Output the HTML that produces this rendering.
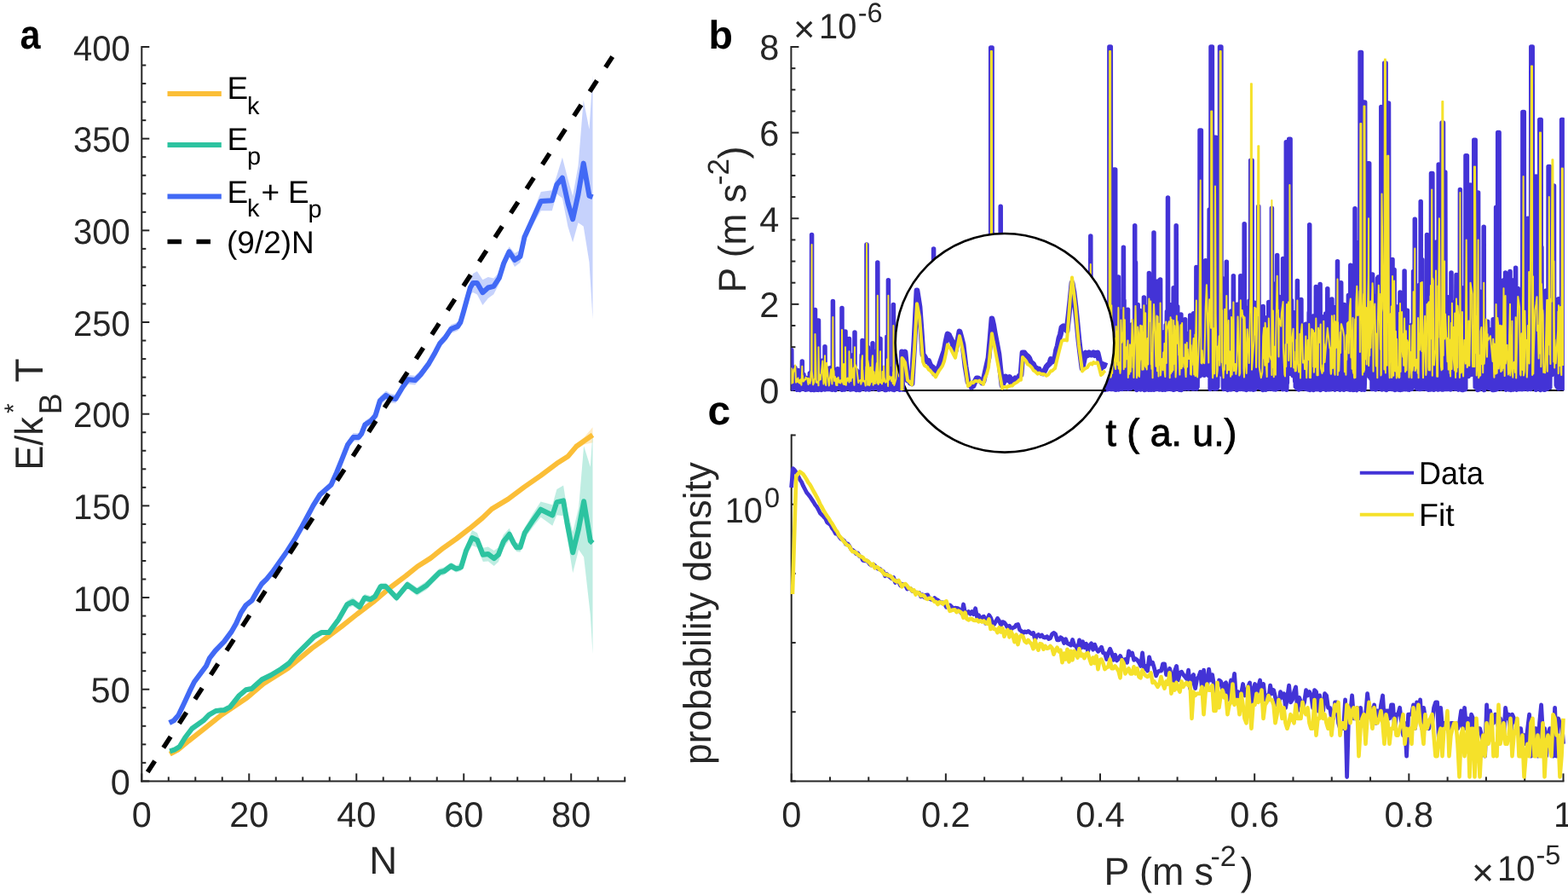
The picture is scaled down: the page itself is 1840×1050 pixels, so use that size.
<!DOCTYPE html>
<html><head><meta charset="utf-8"><style>
html,body{margin:0;padding:0;background:#fff;overflow:hidden;}
svg{display:block;font-family:'Liberation Sans', Arial, Helvetica, sans-serif;text-rendering:geometricPrecision;}
</style></head><body>
<svg width="1840" height="1050" viewBox="0 0 1840 1050">
<rect width="1840" height="1050" fill="#fff"/>
<line x1="166.30" y1="54.00" x2="166.30" y2="917.40" stroke="#262626" stroke-width="2" />
<line x1="165.30" y1="916.40" x2="734.20" y2="916.40" stroke="#262626" stroke-width="2" />
<line x1="166.30" y1="916.40" x2="175.30" y2="916.40" stroke="#262626" stroke-width="2" />
<text x="152.80" y="931.90" font-size="41.5" text-anchor="end" fill="#262626" font-weight="normal" textLength="23.1" lengthAdjust="spacingAndGlyphs">0</text>
<line x1="166.30" y1="894.87" x2="171.30" y2="894.87" stroke="#262626" stroke-width="2" />
<line x1="166.30" y1="873.33" x2="171.30" y2="873.33" stroke="#262626" stroke-width="2" />
<line x1="166.30" y1="851.79" x2="171.30" y2="851.79" stroke="#262626" stroke-width="2" />
<line x1="166.30" y1="830.26" x2="171.30" y2="830.26" stroke="#262626" stroke-width="2" />
<line x1="166.30" y1="808.73" x2="175.30" y2="808.73" stroke="#262626" stroke-width="2" />
<text x="152.80" y="824.23" font-size="41.5" text-anchor="end" fill="#262626" font-weight="normal" textLength="46.2" lengthAdjust="spacingAndGlyphs">50</text>
<line x1="166.30" y1="787.19" x2="171.30" y2="787.19" stroke="#262626" stroke-width="2" />
<line x1="166.30" y1="765.65" x2="171.30" y2="765.65" stroke="#262626" stroke-width="2" />
<line x1="166.30" y1="744.12" x2="171.30" y2="744.12" stroke="#262626" stroke-width="2" />
<line x1="166.30" y1="722.59" x2="171.30" y2="722.59" stroke="#262626" stroke-width="2" />
<line x1="166.30" y1="701.05" x2="175.30" y2="701.05" stroke="#262626" stroke-width="2" />
<text x="152.80" y="716.55" font-size="41.5" text-anchor="end" fill="#262626" font-weight="normal" textLength="66.8" lengthAdjust="spacingAndGlyphs">100</text>
<line x1="166.30" y1="679.51" x2="171.30" y2="679.51" stroke="#262626" stroke-width="2" />
<line x1="166.30" y1="657.98" x2="171.30" y2="657.98" stroke="#262626" stroke-width="2" />
<line x1="166.30" y1="636.44" x2="171.30" y2="636.44" stroke="#262626" stroke-width="2" />
<line x1="166.30" y1="614.91" x2="171.30" y2="614.91" stroke="#262626" stroke-width="2" />
<line x1="166.30" y1="593.38" x2="175.30" y2="593.38" stroke="#262626" stroke-width="2" />
<text x="152.80" y="608.88" font-size="41.5" text-anchor="end" fill="#262626" font-weight="normal" textLength="66.8" lengthAdjust="spacingAndGlyphs">150</text>
<line x1="166.30" y1="571.84" x2="171.30" y2="571.84" stroke="#262626" stroke-width="2" />
<line x1="166.30" y1="550.30" x2="171.30" y2="550.30" stroke="#262626" stroke-width="2" />
<line x1="166.30" y1="528.77" x2="171.30" y2="528.77" stroke="#262626" stroke-width="2" />
<line x1="166.30" y1="507.23" x2="171.30" y2="507.23" stroke="#262626" stroke-width="2" />
<line x1="166.30" y1="485.70" x2="175.30" y2="485.70" stroke="#262626" stroke-width="2" />
<text x="152.80" y="501.20" font-size="41.5" text-anchor="end" fill="#262626" font-weight="normal" textLength="66.8" lengthAdjust="spacingAndGlyphs">200</text>
<line x1="166.30" y1="464.16" x2="171.30" y2="464.16" stroke="#262626" stroke-width="2" />
<line x1="166.30" y1="442.63" x2="171.30" y2="442.63" stroke="#262626" stroke-width="2" />
<line x1="166.30" y1="421.09" x2="171.30" y2="421.09" stroke="#262626" stroke-width="2" />
<line x1="166.30" y1="399.56" x2="171.30" y2="399.56" stroke="#262626" stroke-width="2" />
<line x1="166.30" y1="378.02" x2="175.30" y2="378.02" stroke="#262626" stroke-width="2" />
<text x="152.80" y="393.52" font-size="41.5" text-anchor="end" fill="#262626" font-weight="normal" textLength="66.8" lengthAdjust="spacingAndGlyphs">250</text>
<line x1="166.30" y1="356.49" x2="171.30" y2="356.49" stroke="#262626" stroke-width="2" />
<line x1="166.30" y1="334.95" x2="171.30" y2="334.95" stroke="#262626" stroke-width="2" />
<line x1="166.30" y1="313.42" x2="171.30" y2="313.42" stroke="#262626" stroke-width="2" />
<line x1="166.30" y1="291.88" x2="171.30" y2="291.88" stroke="#262626" stroke-width="2" />
<line x1="166.30" y1="270.35" x2="175.30" y2="270.35" stroke="#262626" stroke-width="2" />
<text x="152.80" y="285.85" font-size="41.5" text-anchor="end" fill="#262626" font-weight="normal" textLength="66.8" lengthAdjust="spacingAndGlyphs">300</text>
<line x1="166.30" y1="248.81" x2="171.30" y2="248.81" stroke="#262626" stroke-width="2" />
<line x1="166.30" y1="227.28" x2="171.30" y2="227.28" stroke="#262626" stroke-width="2" />
<line x1="166.30" y1="205.75" x2="171.30" y2="205.75" stroke="#262626" stroke-width="2" />
<line x1="166.30" y1="184.21" x2="171.30" y2="184.21" stroke="#262626" stroke-width="2" />
<line x1="166.30" y1="162.67" x2="175.30" y2="162.67" stroke="#262626" stroke-width="2" />
<text x="152.80" y="178.17" font-size="41.5" text-anchor="end" fill="#262626" font-weight="normal" textLength="66.8" lengthAdjust="spacingAndGlyphs">350</text>
<line x1="166.30" y1="141.14" x2="171.30" y2="141.14" stroke="#262626" stroke-width="2" />
<line x1="166.30" y1="119.61" x2="171.30" y2="119.61" stroke="#262626" stroke-width="2" />
<line x1="166.30" y1="98.07" x2="171.30" y2="98.07" stroke="#262626" stroke-width="2" />
<line x1="166.30" y1="76.53" x2="171.30" y2="76.53" stroke="#262626" stroke-width="2" />
<line x1="166.30" y1="55.00" x2="175.30" y2="55.00" stroke="#262626" stroke-width="2" />
<text x="152.80" y="70.50" font-size="41.5" text-anchor="end" fill="#262626" font-weight="normal" textLength="66.8" lengthAdjust="spacingAndGlyphs">400</text>
<line x1="166.30" y1="916.40" x2="166.30" y2="907.40" stroke="#262626" stroke-width="2" />
<text x="166.30" y="970.00" font-size="41.5" text-anchor="middle" fill="#262626" font-weight="normal" >0</text>
<line x1="197.79" y1="916.40" x2="197.79" y2="911.40" stroke="#262626" stroke-width="2" />
<line x1="229.29" y1="916.40" x2="229.29" y2="911.40" stroke="#262626" stroke-width="2" />
<line x1="260.78" y1="916.40" x2="260.78" y2="911.40" stroke="#262626" stroke-width="2" />
<line x1="292.28" y1="916.40" x2="292.28" y2="907.40" stroke="#262626" stroke-width="2" />
<text x="292.28" y="970.00" font-size="41.5" text-anchor="middle" fill="#262626" font-weight="normal" >20</text>
<line x1="323.77" y1="916.40" x2="323.77" y2="911.40" stroke="#262626" stroke-width="2" />
<line x1="355.27" y1="916.40" x2="355.27" y2="911.40" stroke="#262626" stroke-width="2" />
<line x1="386.76" y1="916.40" x2="386.76" y2="911.40" stroke="#262626" stroke-width="2" />
<line x1="418.26" y1="916.40" x2="418.26" y2="907.40" stroke="#262626" stroke-width="2" />
<text x="418.26" y="970.00" font-size="41.5" text-anchor="middle" fill="#262626" font-weight="normal" >40</text>
<line x1="449.75" y1="916.40" x2="449.75" y2="911.40" stroke="#262626" stroke-width="2" />
<line x1="481.24" y1="916.40" x2="481.24" y2="911.40" stroke="#262626" stroke-width="2" />
<line x1="512.74" y1="916.40" x2="512.74" y2="911.40" stroke="#262626" stroke-width="2" />
<line x1="544.23" y1="916.40" x2="544.23" y2="907.40" stroke="#262626" stroke-width="2" />
<text x="544.23" y="970.00" font-size="41.5" text-anchor="middle" fill="#262626" font-weight="normal" >60</text>
<line x1="575.73" y1="916.40" x2="575.73" y2="911.40" stroke="#262626" stroke-width="2" />
<line x1="607.22" y1="916.40" x2="607.22" y2="911.40" stroke="#262626" stroke-width="2" />
<line x1="638.72" y1="916.40" x2="638.72" y2="911.40" stroke="#262626" stroke-width="2" />
<line x1="670.21" y1="916.40" x2="670.21" y2="907.40" stroke="#262626" stroke-width="2" />
<text x="670.21" y="970.00" font-size="41.5" text-anchor="middle" fill="#262626" font-weight="normal" >80</text>
<line x1="701.71" y1="916.40" x2="701.71" y2="911.40" stroke="#262626" stroke-width="2" />
<line x1="733.20" y1="916.40" x2="733.20" y2="911.40" stroke="#262626" stroke-width="2" />
<text x="449.75" y="1025.00" font-size="45.5" text-anchor="middle" fill="#262626" font-weight="normal" >N</text>
<polygon points="199.3,884.2 209.3,878.8 221.3,868.8 240.0,854.2 260.0,838.1 290.0,817.9 309.0,801.7 337.6,783.5 366.2,759.7 380.0,749.8 400.0,735.0 419.0,719.8 438.1,705.4 457.1,689.2 476.2,674.9 490.0,663.7 505.2,654.1 520.5,641.8 535.7,631.1 551.0,619.3 566.2,606.7 577.1,596.2 596.2,584.7 615.2,570.4 634.3,557.1 653.3,541.9 666.7,532.4 676.2,520.4 685.7,512.8 695.5,501.3 695.5,519.3 685.7,521.4 676.2,527.2 666.7,538.0 653.3,545.7 634.3,559.1 615.2,572.4 596.2,586.7 577.1,598.0 566.2,608.5 551.0,621.1 535.7,632.9 520.5,643.6 505.2,655.7 490.0,665.3 476.2,676.5 457.1,690.8 438.1,707.0 419.0,721.2 400.0,736.4 380.0,751.2 366.2,761.1 337.6,784.9 309.0,802.9 290.0,819.1 260.0,839.3 240.0,855.2 221.3,869.8 209.3,879.8 199.3,885.2" fill="#FBBE37" fill-opacity="0.3"/>
<polygon points="199.3,879.8 205.3,877.8 210.7,874.5 217.3,863.7 225.3,853.1 232.0,848.4 238.7,843.7 245.3,837.1 253.3,832.3 259.3,831.6 263.3,831.3 270.0,827.6 280.7,814.3 288.7,807.6 295.3,806.2 307.3,795.5 318.0,790.2 330.0,782.8 339.3,776.1 345.7,768.1 357.1,756.7 368.6,745.1 377.1,740.1 386.0,739.7 397.3,723.8 407.3,704.8 414.0,701.1 422.0,707.4 428.0,696.9 434.7,699.0 440.0,695.9 446.7,684.0 452.7,683.8 465.3,696.9 478.0,681.4 489.3,689.2 500.7,681.7 516.0,666.7 521.3,665.5 529.3,659.7 535.3,663.2 541.1,661.0 547.1,639.2 554.0,622.1 560.0,625.2 566.8,642.7 572.8,641.5 579.7,646.1 584.8,642.3 590.8,627.6 597.7,619.8 602.8,631.3 606.3,637.2 610.5,636.6 615.7,618.7 626.0,601.8 634.5,588.6 648.3,592.3 653.4,574.0 661.1,569.5 665.4,596.6 672.2,624.2 679.1,595.3 685.1,523.2 692.8,547.7 695.5,507.1 695.5,767.1 692.8,721.3 685.1,653.4 679.1,644.7 672.2,672.2 665.4,629.6 661.1,605.3 653.4,604.2 648.3,616.7 634.5,606.8 626.0,617.6 615.7,631.5 610.5,647.8 606.3,647.2 602.8,642.9 597.7,633.8 590.8,643.2 584.8,659.3 579.7,664.1 572.8,658.5 566.8,658.9 560.0,642.2 554.0,640.1 547.1,652.2 541.1,669.8 535.3,671.4 529.3,668.3 521.3,674.5 516.0,675.9 500.7,691.7 489.3,698.8 478.0,690.6 465.3,705.7 452.7,692.2 446.7,692.0 440.0,704.1 434.7,707.6 428.0,705.7 422.0,716.6 414.0,710.9 407.3,713.8 397.3,729.6 386.0,744.3 377.1,744.1 368.6,749.1 357.1,760.5 345.7,771.9 339.3,779.9 330.0,786.6 318.0,793.8 307.3,799.1 295.3,809.8 288.7,811.0 280.7,817.7 270.0,831.0 263.3,834.7 259.3,835.0 253.3,835.7 245.3,840.3 238.7,846.9 232.0,851.6 225.3,856.3 217.3,866.9 210.7,877.5 205.3,880.8 199.3,882.8" fill="#2CC3A0" fill-opacity="0.3"/>
<polygon points="198.7,846.5 204.0,843.8 209.3,837.8 216.0,823.8 222.7,809.1 228.0,798.4 236.0,787.7 242.0,779.7 246.0,770.4 252.7,761.6 262.9,751.2 271.4,739.7 277.1,729.7 282.9,716.9 288.6,708.3 295.7,702.5 301.4,692.5 307.1,683.2 312.9,677.5 320.0,668.9 328.6,656.7 337.1,644.5 345.7,631.0 354.5,615.6 367.5,591.1 375.6,578.2 388.6,566.4 395.1,551.4 401.6,534.8 408.0,517.7 414.5,508.0 421.0,508.2 424.2,504.4 428.3,493.7 435.6,488.7 440.4,482.9 445.9,465.0 453.0,458.5 457.8,461.7 464.3,462.9 472.4,449.0 478.9,439.8 487.0,440.8 493.5,434.4 503.2,421.6 509.7,410.3 516.1,398.1 522.6,390.9 529.1,381.1 537.2,377.9 540.4,373.0 543.7,361.7 547.7,347.1 551.8,329.5 555.0,320.9 559.9,318.3 566.4,328.3 572.8,324.9 579.3,326.5 585.8,319.7 591.1,303.0 597.5,289.3 604.0,297.0 610.5,293.6 615.4,273.2 623.5,253.7 634.8,225.0 647.8,223.3 653.4,205.9 659.9,184.8 666.4,209.9 672.1,230.1 678.5,194.7 684.7,117.6 691.5,151.7 695.5,88.3 695.5,374.3 691.5,307.7 684.7,265.6 678.5,261.3 672.1,284.2 666.4,265.7 659.9,232.4 653.4,227.5 647.8,247.3 634.8,247.2 623.5,267.1 615.4,283.4 610.5,308.1 604.0,313.0 597.5,301.3 591.1,315.0 585.8,332.7 579.3,345.2 572.8,350.1 566.4,358.1 559.9,345.5 555.0,342.9 551.8,345.5 547.7,357.1 543.7,371.7 540.4,383.0 537.2,387.9 529.1,391.1 522.6,400.9 516.1,408.1 509.7,420.3 503.2,431.6 493.5,444.8 487.0,451.4 478.9,450.8 472.4,459.4 464.3,472.9 457.8,472.5 453.0,469.3 445.9,475.0 440.4,492.7 435.6,498.3 428.3,502.9 424.2,513.4 421.0,517.6 414.5,517.8 408.0,525.9 401.6,541.2 395.1,557.0 388.6,571.2 375.6,582.2 367.5,595.1 354.5,619.4 345.7,634.8 337.1,648.3 328.6,660.5 320.0,672.5 312.9,681.1 307.1,686.8 301.4,696.1 295.7,706.1 288.6,711.7 282.9,720.3 277.1,733.1 271.4,743.1 262.9,754.6 252.7,765.0 246.0,773.6 242.0,782.9 236.0,790.9 228.0,801.6 222.7,812.3 216.0,826.8 209.3,840.8 204.0,846.8 198.7,849.5" fill="#4169F5" fill-opacity="0.3"/>
<polyline points="199.3,884.7 209.3,879.3 221.3,869.3 240.0,854.7 260.0,838.7 290.0,818.5 309.0,802.3 337.6,784.2 366.2,760.4 380.0,750.5 400.0,735.7 419.0,720.5 438.1,706.2 457.1,690.0 476.2,675.7 490.0,664.5 505.2,654.9 520.5,642.7 535.7,632.0 551.0,620.2 566.2,607.6 577.1,597.1 596.2,585.7 615.2,571.4 634.3,558.1 653.3,543.8 666.7,535.2 676.2,523.8 685.7,517.1 695.5,510.3" fill="none" stroke="#FBBE37" stroke-width="6" stroke-linejoin="round" />
<polyline points="199.3,881.3 205.3,879.3 210.7,876.0 217.3,865.3 225.3,854.7 232.0,850.0 238.7,845.3 245.3,838.7 253.3,834.0 259.3,833.3 263.3,833.0 270.0,829.3 280.7,816.0 288.7,809.3 295.3,808.0 307.3,797.3 318.0,792.0 330.0,784.7 339.3,778.0 345.7,770.0 357.1,758.6 368.6,747.1 377.1,742.1 386.0,742.0 397.3,726.7 407.3,709.3 414.0,706.0 422.0,712.0 428.0,701.3 434.7,703.3 440.0,700.0 446.7,688.0 452.7,688.0 465.3,701.3 478.0,686.0 489.3,694.0 500.7,686.7 516.0,671.3 521.3,670.0 529.3,664.0 535.3,667.3 541.1,665.4 547.1,645.7 554.0,631.1 560.0,633.7 566.8,650.8 572.8,650.0 579.7,655.1 584.8,650.8 590.8,635.4 597.7,626.8 602.8,637.1 606.3,642.2 610.5,642.2 615.7,625.1 626.0,609.7 634.5,597.7 648.3,604.5 653.4,589.1 661.1,587.4 665.4,613.1 672.2,648.2 679.1,620.0 685.1,588.3 692.8,634.5 695.5,637.1" fill="none" stroke="#2CC3A0" stroke-width="6" stroke-linejoin="round" />
<polyline points="198.7,848.0 204.0,845.3 209.3,839.3 216.0,825.3 222.7,810.7 228.0,800.0 236.0,789.3 242.0,781.3 246.0,772.0 252.7,763.3 262.9,752.9 271.4,741.4 277.1,731.4 282.9,718.6 288.6,710.0 295.7,704.3 301.4,694.3 307.1,685.0 312.9,679.3 320.0,670.7 328.6,658.6 337.1,646.4 345.7,632.9 354.5,617.5 367.5,593.1 375.6,580.2 388.6,568.8 395.1,554.2 401.6,538.0 408.0,521.8 414.5,512.9 421.0,512.9 424.2,508.9 428.3,498.3 435.6,493.5 440.4,487.8 445.9,470.0 453.0,463.9 457.8,467.1 464.3,467.9 472.4,454.2 478.9,445.3 487.0,446.1 493.5,439.6 503.2,426.6 509.7,415.3 516.1,403.1 522.6,395.9 529.1,386.1 537.2,382.9 540.4,378.0 543.7,366.7 547.7,352.1 551.8,337.5 555.0,331.9 559.9,331.9 566.4,343.2 572.8,337.5 579.3,335.9 585.8,326.2 591.1,309.0 597.5,295.3 604.0,305.0 610.5,300.9 615.4,278.3 623.5,260.4 634.8,236.1 647.8,235.3 653.4,216.7 659.9,208.6 666.4,237.8 672.1,257.2 678.5,228.0 684.7,191.6 691.5,229.7 695.5,231.3" fill="none" stroke="#4169F5" stroke-width="6" stroke-linejoin="round" />
<line x1="173.23" y1="905.74" x2="718.71" y2="66.52" stroke="#000" stroke-width="5.5" stroke-dasharray="15.5 18.5"/>
<line x1="196.5" y1="110" x2="259.8" y2="110" stroke="#FBBE37" stroke-width="6"/>
<line x1="196.5" y1="170" x2="259.8" y2="170" stroke="#2CC3A0" stroke-width="6"/>
<line x1="196.5" y1="230.4" x2="259.8" y2="230.4" stroke="#4169F5" stroke-width="6"/>
<line x1="196.5" y1="283.6" x2="259.8" y2="283.6" stroke="#000" stroke-width="5.5" stroke-dasharray="16.5 17.5"/>
<line x1="928.40" y1="54.00" x2="928.40" y2="458.50" stroke="#262626" stroke-width="2" />
<line x1="928.40" y1="457.50" x2="937.40" y2="457.50" stroke="#262626" stroke-width="2" />
<text x="914.40" y="472.80" font-size="41.5" text-anchor="end" fill="#262626" font-weight="normal" >0</text>
<line x1="928.40" y1="432.34" x2="933.40" y2="432.34" stroke="#262626" stroke-width="2" />
<line x1="928.40" y1="407.19" x2="933.40" y2="407.19" stroke="#262626" stroke-width="2" />
<line x1="928.40" y1="382.03" x2="933.40" y2="382.03" stroke="#262626" stroke-width="2" />
<line x1="928.40" y1="356.88" x2="937.40" y2="356.88" stroke="#262626" stroke-width="2" />
<text x="914.40" y="372.18" font-size="41.5" text-anchor="end" fill="#262626" font-weight="normal" >2</text>
<line x1="928.40" y1="331.72" x2="933.40" y2="331.72" stroke="#262626" stroke-width="2" />
<line x1="928.40" y1="306.56" x2="933.40" y2="306.56" stroke="#262626" stroke-width="2" />
<line x1="928.40" y1="281.41" x2="933.40" y2="281.41" stroke="#262626" stroke-width="2" />
<line x1="928.40" y1="256.25" x2="937.40" y2="256.25" stroke="#262626" stroke-width="2" />
<text x="914.40" y="271.55" font-size="41.5" text-anchor="end" fill="#262626" font-weight="normal" >4</text>
<line x1="928.40" y1="231.09" x2="933.40" y2="231.09" stroke="#262626" stroke-width="2" />
<line x1="928.40" y1="205.94" x2="933.40" y2="205.94" stroke="#262626" stroke-width="2" />
<line x1="928.40" y1="180.78" x2="933.40" y2="180.78" stroke="#262626" stroke-width="2" />
<line x1="928.40" y1="155.62" x2="937.40" y2="155.62" stroke="#262626" stroke-width="2" />
<text x="914.40" y="170.93" font-size="41.5" text-anchor="end" fill="#262626" font-weight="normal" >6</text>
<line x1="928.40" y1="130.47" x2="933.40" y2="130.47" stroke="#262626" stroke-width="2" />
<line x1="928.40" y1="105.31" x2="933.40" y2="105.31" stroke="#262626" stroke-width="2" />
<line x1="928.40" y1="80.16" x2="933.40" y2="80.16" stroke="#262626" stroke-width="2" />
<line x1="928.40" y1="55.00" x2="937.40" y2="55.00" stroke="#262626" stroke-width="2" />
<text x="914.40" y="70.30" font-size="41.5" text-anchor="end" fill="#262626" font-weight="normal" >8</text>
<defs><clipPath id="cb"><rect x="928.4" y="52" width="907.5" height="418"/></clipPath></defs>
<line x1="928.40" y1="458.00" x2="1835.00" y2="458.00" stroke="#000" stroke-width="2" />
<g clip-path="url(#cb)"><polyline points="928.70,450.6 928.80,410.7 929.00,444.9 929.30,449.1 929.60,455.8 929.90,455.9 930.20,449.2 930.50,455.7 930.80,444.3 931.10,438.7 931.40,436.8 931.70,444.7 932.00,441.3 932.30,431.2 932.60,440.5 932.90,431.5 933.20,441.9 933.50,441.7 933.80,439.7 934.10,449.9 934.40,455.2 934.70,456.1 935.00,454.1 935.30,447.4 935.60,457.3 935.90,455.9 936.20,449.1 936.50,448.1 936.50,434.4 936.80,451.1 937.10,449.1 937.40,455.4 937.70,451.1 938.00,454.1 938.30,455.8 938.60,457.5 938.90,456.5 939.20,455.1 939.50,453.7 939.80,455.1 940.10,455.9 940.40,453.5 940.70,455.9 941.00,444.9 941.30,424.1 941.60,456.2 941.90,448.8 942.20,447.1 942.50,454.7 942.80,452.0 943.00,439.4 943.10,449.0 943.40,454.5 943.70,454.3 944.00,450.6 944.30,455.6 944.60,455.0 944.90,456.2 945.20,457.1 945.50,443.3 945.80,456.8 946.10,452.4 946.40,445.6 946.70,457.1 947.00,450.7 947.30,453.8 947.60,453.6 947.90,456.1 948.20,454.6 948.50,456.6 948.80,454.5 949.10,448.8 949.40,454.2 949.70,451.2 950.00,456.6 950.30,438.1 950.60,456.2 950.90,456.3 951.20,447.3 951.50,440.6 951.80,457.5 952.10,436.0 952.40,457.3 952.60,275.4 952.70,421.1 953.00,454.2 953.30,454.0 953.60,454.7 953.90,446.5 954.20,453.3 954.50,457.4 954.80,455.6 955.10,455.3 955.40,456.3 955.70,457.5 956.00,434.2 956.30,446.7 956.50,363.4 956.60,446.4 956.90,454.0 957.20,449.5 957.50,457.1 957.80,455.0 958.10,455.3 958.40,457.3 958.70,448.7 959.00,434.0 959.30,456.4 959.60,456.1 959.90,449.1 960.20,455.5 960.50,457.4 960.50,376.0 960.80,432.8 961.10,456.6 961.40,456.2 961.70,445.5 962.00,451.8 962.30,455.2 962.60,452.7 962.90,455.1 963.20,441.5 963.50,450.4 963.80,455.9 964.10,457.4 964.40,444.9 964.70,454.9 965.00,455.5 965.30,423.0 965.60,441.9 965.90,438.6 966.20,453.9 966.50,455.0 966.80,455.0 967.10,455.8 967.40,454.8 967.70,440.8 968.00,456.9 968.00,406.7 968.30,454.0 968.60,456.7 968.90,440.7 969.20,454.5 969.50,434.5 969.80,433.5 970.10,432.0 970.40,439.1 970.70,451.8 971.00,432.2 971.30,456.4 971.60,440.6 971.90,453.9 972.20,454.1 972.50,453.5 972.80,454.2 973.10,453.8 973.40,450.1 973.70,456.6 974.00,448.7 974.30,431.8 974.60,450.0 974.90,449.7 975.20,437.9 975.50,456.9 975.80,455.8 976.10,455.5 976.40,455.0 976.70,457.3 977.00,437.5 977.30,445.2 977.40,353.4 977.60,401.1 977.90,454.2 978.20,445.8 978.50,433.0 978.80,442.5 979.10,454.8 979.40,444.2 979.70,451.4 980.00,443.9 980.30,457.4 980.60,455.9 980.90,456.3 981.20,454.3 981.50,442.7 981.80,440.5 982.10,455.2 982.40,454.9 982.70,453.3 983.00,432.7 983.30,451.0 983.60,443.8 983.90,433.2 984.20,454.3 984.50,453.9 984.80,454.2 985.10,454.3 985.40,455.7 985.70,454.4 986.00,450.0 986.30,454.9 986.60,446.2 986.90,453.6 987.20,442.8 987.50,456.8 987.80,454.4 988.00,361.4 988.10,447.2 988.40,457.3 988.70,455.1 989.00,454.8 989.30,433.1 989.60,453.9 989.90,450.9 990.20,392.7 990.50,454.2 990.80,443.5 991.10,433.2 991.40,457.0 991.70,456.1 992.00,456.8 992.00,389.1 992.30,456.5 992.60,441.1 992.90,453.3 993.20,455.7 993.50,452.7 993.80,455.7 994.10,454.8 994.40,452.5 994.70,449.6 995.00,454.0 995.30,450.1 995.60,451.9 995.90,450.8 996.20,455.1 996.50,454.8 996.50,397.6 996.80,441.5 997.10,450.9 997.40,456.3 997.70,454.1 998.00,434.8 998.30,457.1 998.60,452.6 998.90,416.8 999.20,455.8 999.50,454.1 999.80,456.2 1000.10,436.9 1000.40,455.9 1000.70,456.5 1001.00,453.9 1001.30,445.1 1001.60,438.9 1001.90,454.0 1002.20,456.0 1002.50,454.4 1002.80,453.1 1003.00,390.1 1003.10,431.7 1003.40,454.2 1003.70,454.2 1004.00,444.6 1004.30,453.9 1004.60,457.4 1004.90,457.5 1005.20,434.8 1005.50,456.3 1005.80,442.9 1006.10,443.4 1006.40,455.6 1006.70,453.8 1007.00,441.1 1007.30,456.1 1007.60,456.3 1007.90,454.9 1008.20,456.7 1008.50,457.5 1008.80,454.6 1009.10,457.5 1009.40,457.3 1009.70,439.5 1010.00,455.9 1010.30,456.5 1010.60,435.6 1010.90,456.3 1011.20,416.8 1011.50,455.1 1011.80,454.2 1012.00,399.6 1012.10,454.8 1012.40,435.0 1012.70,455.1 1013.00,455.8 1013.30,455.5 1013.60,437.6 1013.90,449.4 1014.20,455.7 1014.50,453.6 1014.80,449.7 1015.10,446.4 1015.40,442.6 1015.70,455.9 1016.00,456.8 1016.30,437.3 1016.60,454.1 1016.90,453.7 1017.00,286.9 1017.20,449.7 1017.50,438.9 1017.80,446.5 1018.10,451.7 1018.40,407.6 1018.70,454.4 1019.00,456.8 1019.30,439.5 1019.60,456.2 1019.90,445.0 1020.20,457.1 1020.50,454.5 1020.80,456.2 1021.10,454.6 1021.40,433.6 1021.70,455.7 1022.00,454.5 1022.30,450.5 1022.60,451.0 1022.90,454.9 1023.20,449.8 1023.50,411.7 1023.80,454.5 1024.00,402.7 1024.10,454.2 1024.40,443.0 1024.70,453.4 1025.00,456.1 1025.30,452.4 1025.60,436.8 1025.90,450.7 1026.20,454.3 1026.50,453.8 1026.80,453.5 1027.10,454.5 1027.40,453.7 1027.70,442.9 1028.00,455.2 1028.30,441.3 1028.60,454.3 1028.90,411.8 1029.20,454.5 1029.50,447.7 1029.80,454.9 1029.80,308.1 1030.10,434.4 1030.40,453.8 1030.70,454.0 1031.00,455.7 1031.30,457.1 1031.60,452.3 1031.90,457.1 1032.20,442.6 1032.50,436.3 1032.80,442.3 1033.00,397.6 1033.10,455.4 1033.40,455.0 1033.70,454.6 1034.00,455.2 1034.30,456.0 1034.60,451.9 1034.90,456.0 1035.20,453.9 1035.50,441.5 1035.80,444.2 1036.10,454.1 1036.40,432.0 1036.70,453.5 1037.00,433.5 1037.30,456.0 1037.60,445.2 1037.90,432.4 1038.20,446.6 1038.50,457.4 1038.80,455.8 1039.10,451.8 1039.40,454.3 1039.70,453.9 1040.00,456.0 1040.30,457.4 1040.60,453.3 1040.90,395.0 1041.20,442.5 1041.50,455.4 1041.80,453.9 1042.10,451.8 1042.40,439.2 1042.40,328.7 1042.70,454.1 1043.00,456.4 1043.30,433.1 1043.60,454.7 1043.90,456.9 1044.20,448.6 1044.50,437.9 1044.80,445.1 1045.10,441.9 1045.40,433.1 1045.70,450.4 1046.00,454.7 1046.30,449.3 1046.60,445.2 1046.90,454.2 1047.20,456.4 1047.50,440.3 1047.80,457.1 1048.10,433.8 1048.40,450.2 1048.40,357.4 1048.70,454.5 1049.00,437.1 1049.30,457.5 1049.60,450.7 1049.90,454.0 1050.20,441.2 1050.50,455.3 1050.80,448.3 1051.10,456.5 1051.40,449.4 1051.70,446.3 1052.00,438.1 1052.30,449.3 1052.60,437.7 1052.90,437.1 1053.20,442.5 1053.50,414.8 1053.80,444.9 1054.10,439.2 1054.40,456.4 1054.70,426.7 1055.00,455.5 1055.30,454.6 1055.60,433.8 1055.90,457.3 1056.20,434.9 1056.50,448.2 1056.80,443.1 1057.10,442.8 1057.40,434.2 1057.70,443.9 1058.00,423.0 1058.30,452.7 1058.60,456.4 1058.90,436.9 1059.20,456.9 1059.50,456.2 1059.80,426.8 1060.10,447.5 1060.40,456.1 1060.70,451.3 1061.00,453.9 1061.30,454.4 1061.60,431.7 1061.90,457.3 1062.20,449.2 1062.50,438.6 1062.80,455.6 1063.10,431.1 1063.40,439.3 1063.70,424.0 1064.00,453.8 1064.30,435.3 1064.60,453.2 1064.90,456.1 1065.20,445.5 1065.50,444.4 1065.80,431.6 1066.10,444.6 1066.40,453.3 1066.70,436.4 1067.00,451.3 1067.30,450.5 1067.60,432.3 1067.90,436.4 1068.20,434.6 1068.50,426.3 1068.80,429.3 1069.10,433.2 1069.40,423.9 1069.70,453.5 1070.00,441.2 1070.30,450.9 1070.60,447.4 1070.90,441.3 1071.20,457.1 1071.50,434.8 1071.80,448.7 1072.10,436.0 1072.40,453.8 1072.70,453.6 1073.00,453.8 1073.30,429.8 1073.60,448.5 1073.90,435.1 1074.20,435.2 1074.50,443.3 1074.80,434.4 1075.10,454.7 1075.40,430.8 1075.70,424.2 1076.00,456.9 1076.30,431.0 1076.60,446.8 1076.90,425.8 1077.20,456.8 1077.50,452.8 1077.80,419.3 1078.10,429.4 1078.40,457.1 1078.70,430.1 1079.00,457.1 1079.30,424.1 1079.60,426.2 1079.90,443.3 1080.20,426.2 1080.50,453.7 1080.80,448.1 1081.10,457.4 1081.40,436.9 1081.70,426.5 1082.00,415.4 1082.30,457.4 1082.60,432.8 1082.90,441.2 1083.20,452.6 1083.50,457.4 1083.80,442.3 1084.10,455.9 1084.40,447.8 1084.70,436.4 1085.00,429.4 1085.30,454.3 1085.60,439.9 1085.90,456.1 1086.20,426.7 1086.50,456.4 1086.80,421.6 1087.10,457.2 1087.40,433.5 1087.70,455.8 1088.00,456.5 1088.30,445.6 1088.60,453.0 1088.90,450.7 1089.20,455.6 1089.50,454.2 1089.80,437.5 1090.10,441.5 1090.40,440.9 1090.70,427.9 1091.00,425.2 1091.30,429.4 1091.60,451.4 1091.90,441.3 1092.20,424.2 1092.50,455.0 1092.80,435.6 1093.10,437.8 1093.40,455.1 1093.70,441.3 1094.00,434.0 1094.30,432.4 1094.60,453.7 1094.90,454.7 1095.20,454.7 1095.50,438.1 1095.60,292.0 1095.80,457.0 1096.10,456.5 1096.40,457.2 1096.70,442.6 1097.00,453.5 1097.30,446.1 1097.60,456.9 1097.90,457.0 1098.20,428.9 1098.50,455.9 1098.80,453.1 1099.10,457.0 1099.40,428.2 1099.70,409.1 1100.00,457.2 1100.30,425.2 1100.60,425.5 1100.90,441.4 1101.20,455.1 1101.50,446.9 1101.80,434.6 1102.10,436.5 1102.40,456.3 1102.70,431.0 1103.00,454.3 1103.30,454.0 1103.60,456.8 1103.90,456.7 1104.20,454.5 1104.50,441.9 1104.80,447.9 1105.10,420.3 1105.40,451.1 1105.70,434.8 1106.00,425.5 1106.30,456.5 1106.60,435.1 1106.90,456.1 1107.20,432.4 1107.50,455.9 1107.80,454.8 1108.10,427.9 1108.40,445.6 1108.70,425.5 1109.00,424.3 1109.30,447.5 1109.60,454.1 1109.90,455.2 1110.20,456.0 1110.50,423.5 1110.80,445.0 1111.10,443.6 1111.40,454.3 1111.70,429.8 1112.00,457.4 1112.30,431.7 1112.60,423.8 1112.90,454.7 1113.20,445.6 1113.50,453.6 1113.80,456.9 1114.10,447.7 1114.40,429.0 1114.70,454.2 1115.00,457.2 1115.30,450.7 1115.60,456.4 1115.90,434.0 1116.20,456.0 1116.50,443.7 1116.80,454.3 1117.10,441.6 1117.40,455.8 1117.70,445.5 1118.00,436.9 1118.30,457.0 1118.60,456.5 1118.90,437.2 1119.20,453.5 1119.50,441.8 1119.80,426.3 1120.10,432.6 1120.40,443.8 1120.70,453.6 1121.00,446.0 1121.30,457.1 1121.60,442.5 1121.90,444.8 1122.20,426.0 1122.50,437.1 1122.80,432.5 1123.10,455.7 1123.40,427.4 1123.70,430.3 1124.00,456.0 1124.30,437.2 1124.60,455.1 1124.90,421.6 1125.20,424.1 1125.50,451.4 1125.80,454.2 1126.10,442.2 1126.40,456.1 1126.70,453.7 1127.00,457.1 1127.30,454.3 1127.60,455.8 1127.90,434.6 1128.20,416.6 1128.50,456.7 1128.80,430.7 1129.10,454.0 1129.40,454.6 1129.70,455.1 1130.00,454.4 1130.30,457.2 1130.60,425.9 1130.90,452.5 1131.20,425.3 1131.50,457.0 1131.80,441.3 1132.10,436.8 1132.40,436.0 1132.70,455.8 1133.00,443.8 1133.30,430.2 1133.60,456.8 1133.90,457.1 1134.20,457.2 1134.50,433.5 1134.80,455.7 1135.10,438.7 1135.40,435.0 1135.70,445.9 1136.00,454.8 1136.30,407.9 1136.60,457.2 1136.90,455.7 1137.20,451.6 1137.50,445.4 1137.80,441.4 1138.10,446.2 1138.40,428.2 1138.70,428.0 1139.00,433.2 1139.30,431.8 1139.60,443.4 1139.90,451.1 1140.20,453.5 1140.50,455.4 1140.80,439.9 1141.10,457.5 1141.40,424.0 1141.70,453.1 1142.00,453.8 1142.30,429.1 1142.60,447.3 1142.90,442.2 1143.20,457.1 1143.50,440.3 1143.80,444.7 1144.10,438.1 1144.40,435.3 1144.70,412.3 1145.00,441.1 1145.30,437.2 1145.60,456.0 1145.90,454.7 1146.20,456.4 1146.50,452.5 1146.80,431.6 1147.10,455.6 1147.40,454.6 1147.70,456.7 1148.00,451.8 1148.30,438.6 1148.60,455.8 1148.90,454.4 1149.20,432.5 1149.50,442.7 1149.80,441.8 1150.10,454.0 1150.40,455.0 1150.70,419.1 1151.00,456.8 1151.30,425.8 1151.60,455.1 1151.90,434.8 1152.20,445.3 1152.50,439.1 1152.80,456.8 1153.10,450.4 1153.40,455.0 1153.70,433.4 1154.00,440.4 1154.30,440.6 1154.60,413.7 1154.90,453.8 1155.20,453.7 1155.50,454.2 1155.80,456.1 1156.10,453.9 1156.40,426.1 1156.70,440.5 1157.00,447.2 1157.30,456.5 1157.60,454.8 1157.90,430.6 1158.20,430.1 1158.50,454.8 1158.80,424.0 1159.10,437.7 1159.40,423.9 1159.70,423.8 1160.00,452.7 1160.30,438.6 1160.60,432.9 1160.90,456.7 1161.20,455.2 1161.50,448.6 1161.80,432.3 1162.10,453.0 1162.40,454.0 1162.70,411.3 1162.70,56.0 1163.00,424.1 1163.30,456.1 1163.60,431.5 1163.90,434.5 1164.10,56.0 1164.20,456.1 1164.50,437.6 1164.80,456.8 1165.10,455.6 1165.40,410.6 1165.70,435.9 1166.00,455.3 1166.30,423.2 1166.60,446.4 1166.90,456.5 1167.20,455.2 1167.50,457.4 1167.80,454.8 1168.10,439.9 1168.40,424.4 1168.70,455.5 1169.00,454.8 1169.30,436.4 1169.60,411.4 1169.90,456.9 1170.20,427.8 1170.50,454.6 1170.80,456.1 1171.10,433.4 1171.40,432.4 1171.70,424.8 1172.00,439.9 1172.30,454.6 1172.60,456.2 1172.90,437.9 1173.20,442.1 1173.50,451.8 1173.80,431.9 1174.10,448.6 1174.20,242.2 1174.40,450.6 1174.70,454.6 1175.00,455.9 1175.30,433.5 1175.60,444.8 1175.90,429.5 1176.20,443.3 1176.50,455.3 1176.80,453.6 1177.10,456.9 1177.40,429.7 1177.70,452.3 1178.00,424.0 1178.30,421.1 1178.60,447.8 1178.90,457.4 1179.20,455.3 1179.50,457.1 1179.80,453.3 1180.10,456.0 1180.40,442.3 1180.70,432.0 1181.00,456.9 1181.30,454.7 1181.60,456.4 1181.90,457.0 1182.20,450.3 1182.50,438.1 1182.80,455.7 1183.10,427.9 1183.40,455.5 1183.70,431.4 1184.00,454.6 1184.30,454.1 1184.60,455.1 1184.90,425.7 1185.20,455.7 1185.50,434.2 1185.80,411.5 1186.10,455.8 1186.40,455.3 1186.70,444.2 1187.00,452.7 1187.30,441.0 1187.60,441.1 1187.90,424.1 1188.20,456.4 1188.50,455.1 1188.80,454.0 1189.10,456.5 1189.40,456.5 1189.70,448.0 1190.00,454.8 1190.30,457.2 1190.60,444.0 1190.90,454.1 1191.20,407.3 1191.50,452.7 1191.80,455.6 1192.10,455.2 1192.40,450.9 1192.70,442.5 1193.00,457.3 1193.30,456.2 1193.60,456.8 1193.90,453.5 1194.20,455.2 1194.50,455.6 1194.80,453.9 1195.10,419.2 1195.40,457.2 1195.70,454.3 1196.00,452.6 1196.30,436.0 1196.60,440.0 1196.90,457.5 1197.20,431.6 1197.50,429.8 1197.80,442.9 1198.10,447.4 1198.40,457.4 1198.70,454.0 1199.00,455.8 1199.30,427.1 1199.60,455.2 1199.90,433.9 1200.20,445.8 1200.50,457.5 1200.80,442.6 1201.10,456.4 1201.40,456.1 1201.70,419.1 1202.00,432.8 1202.30,430.4 1202.60,443.3 1202.90,456.7 1203.20,454.0 1203.50,425.8 1203.80,453.3 1204.10,457.4 1204.40,432.9 1204.70,425.3 1205.00,448.6 1205.30,441.3 1205.60,414.0 1205.90,436.8 1206.20,455.5 1206.50,450.6 1206.80,425.2 1207.10,436.8 1207.40,456.7 1207.70,451.5 1208.00,457.2 1208.30,453.5 1208.60,444.6 1208.90,457.2 1209.20,455.1 1209.50,451.7 1209.80,428.1 1210.10,454.6 1210.40,415.2 1210.70,430.7 1211.00,436.6 1211.30,444.4 1211.60,429.0 1211.90,456.7 1212.20,419.8 1212.50,431.0 1212.80,438.2 1213.10,449.1 1213.40,440.4 1213.70,456.2 1214.00,456.6 1214.30,440.8 1214.60,455.2 1214.90,449.7 1215.20,454.6 1215.50,456.0 1215.80,450.0 1216.10,438.6 1216.40,453.8 1216.70,435.9 1217.00,428.3 1217.30,412.2 1217.60,456.5 1217.90,456.9 1218.20,437.0 1218.50,434.4 1218.80,423.9 1219.10,453.9 1219.40,437.9 1219.70,456.9 1220.00,453.0 1220.30,426.1 1220.60,446.8 1220.90,440.9 1221.20,452.9 1221.50,456.0 1221.80,457.2 1222.10,454.2 1222.40,420.5 1222.70,436.2 1223.00,437.1 1223.30,441.4 1223.60,453.8 1223.90,432.6 1224.20,447.3 1224.50,449.1 1224.80,441.6 1225.10,454.6 1225.40,456.9 1225.70,436.7 1226.00,454.5 1226.30,434.2 1226.60,446.2 1226.90,438.5 1227.20,441.1 1227.50,432.1 1227.80,456.0 1228.10,455.8 1228.40,456.6 1228.70,453.1 1229.00,436.4 1229.30,455.4 1229.60,455.9 1229.90,419.3 1230.20,456.5 1230.50,453.6 1230.80,456.3 1231.10,454.0 1231.40,439.7 1231.70,423.9 1232.00,457.0 1232.30,456.2 1232.60,456.9 1232.90,454.4 1233.20,455.3 1233.50,454.4 1233.80,457.1 1234.10,450.1 1234.40,455.7 1234.70,433.7 1235.00,410.4 1235.30,433.7 1235.60,447.2 1235.90,446.0 1236.20,455.1 1236.50,456.8 1236.80,457.3 1237.10,430.9 1237.40,430.8 1237.70,442.7 1238.00,435.9 1238.30,437.5 1238.60,456.5 1238.90,455.1 1239.20,449.3 1239.50,453.9 1239.80,446.6 1240.10,453.4 1240.40,413.3 1240.70,455.5 1241.00,456.3 1241.30,455.7 1241.60,444.5 1241.90,439.5 1242.20,425.2 1242.50,457.4 1242.80,413.4 1243.10,443.2 1243.40,424.8 1243.70,455.2 1244.00,437.8 1244.30,456.0 1244.60,441.8 1244.90,424.6 1245.20,434.9 1245.50,457.1 1245.80,455.7 1246.10,441.9 1246.40,440.4 1246.70,410.6 1247.00,453.9 1247.30,452.6 1247.60,445.9 1247.90,433.6 1248.20,447.1 1248.50,454.1 1248.80,456.4 1249.10,455.7 1249.40,455.8 1249.70,423.7 1250.00,443.1 1250.30,449.6 1250.60,453.8 1250.90,457.4 1251.20,439.2 1251.50,430.7 1251.80,420.5 1252.10,438.8 1252.40,451.4 1252.70,443.6 1253.00,455.8 1253.30,440.3 1253.60,440.8 1253.90,456.5 1254.20,438.7 1254.50,453.9 1254.80,431.8 1255.10,456.9 1255.40,432.6 1255.70,440.5 1256.00,451.5 1256.30,433.5 1256.60,420.7 1256.90,457.0 1257.20,451.1 1257.50,456.3 1257.80,438.4 1258.10,449.8 1258.40,453.7 1258.70,423.7 1259.00,422.9 1259.30,455.3 1259.60,450.2 1259.90,454.4 1260.20,409.5 1260.50,455.3 1260.80,454.3 1261.10,447.4 1261.40,449.0 1261.70,455.7 1262.00,432.2 1262.30,455.3 1262.60,441.0 1262.90,445.4 1263.20,437.0 1263.50,454.9 1263.80,440.8 1264.10,453.5 1264.40,455.8 1264.70,446.8 1265.00,426.2 1265.30,454.5 1265.60,424.4 1265.90,435.8 1266.20,447.4 1266.50,423.2 1266.80,456.0 1267.10,448.7 1267.40,456.5 1267.70,453.8 1268.00,431.8 1268.30,453.6 1268.60,440.9 1268.90,456.4 1269.20,454.1 1269.50,455.6 1269.80,457.5 1270.10,414.8 1270.40,455.6 1270.70,435.2 1271.00,438.5 1271.30,452.8 1271.60,455.2 1271.90,456.3 1272.20,452.9 1272.50,456.5 1272.80,437.8 1273.10,429.0 1273.40,441.3 1273.70,451.6 1274.00,457.1 1274.30,437.3 1274.60,433.5 1274.90,449.8 1275.20,454.3 1275.50,423.8 1275.80,451.9 1276.10,451.9 1276.40,448.1 1276.70,452.1 1277.00,451.9 1277.30,420.8 1277.60,454.7 1277.90,456.6 1278.20,442.1 1278.50,456.8 1278.80,454.5 1279.10,437.4 1279.40,441.2 1279.70,455.4 1279.80,276.9 1280.00,450.5 1280.30,457.2 1280.60,434.1 1280.90,437.2 1281.20,426.2 1281.50,431.3 1281.80,449.3 1282.10,429.9 1282.40,456.7 1282.70,445.3 1283.00,455.3 1283.30,422.8 1283.60,427.8 1283.90,432.7 1284.20,445.3 1284.50,455.1 1284.80,452.5 1285.10,451.7 1285.40,453.1 1285.70,454.5 1286.00,411.0 1286.30,433.4 1286.60,451.3 1286.90,455.9 1287.20,448.6 1287.50,430.5 1287.80,443.9 1288.10,453.7 1288.40,457.4 1288.70,457.2 1289.00,448.3 1289.30,426.4 1289.60,444.9 1289.90,437.4 1290.20,426.0 1290.50,455.9 1290.80,457.4 1291.10,448.3 1291.40,454.0 1291.70,440.0 1292.00,454.2 1292.30,456.7 1292.60,438.0 1292.90,454.2 1293.20,429.5 1293.50,436.9 1293.80,442.5 1294.10,425.6 1294.40,456.5 1294.70,407.9 1295.00,457.2 1295.30,424.3 1295.60,456.2 1295.90,439.6 1296.20,426.4 1296.50,454.7 1296.80,457.3 1297.10,419.9 1297.40,448.3 1297.70,442.1 1298.00,425.7 1298.30,455.6 1298.60,445.0 1298.90,456.0 1299.20,454.0 1299.50,431.1 1299.80,456.8 1300.10,389.6 1300.40,376.8 1300.70,454.1 1301.00,455.5 1301.30,419.7 1301.60,453.9 1301.90,420.2 1301.90,55.0 1302.20,413.8 1302.50,451.8 1302.80,405.0 1303.10,456.3 1303.30,55.0 1303.40,456.6 1303.70,444.1 1304.00,454.5 1304.30,343.4 1304.60,453.5 1304.90,455.4 1305.20,456.4 1305.50,386.6 1305.80,407.3 1306.10,407.9 1306.40,443.2 1306.70,406.3 1307.00,434.2 1307.30,366.4 1307.30,198.9 1307.60,404.2 1307.90,438.0 1308.20,457.0 1308.50,395.4 1308.70,198.9 1308.80,456.0 1309.10,445.5 1309.40,457.2 1309.70,393.2 1310.00,453.7 1310.30,440.3 1310.60,395.0 1310.90,437.4 1311.20,438.9 1311.50,454.7 1311.80,455.5 1312.10,410.3 1312.40,325.1 1312.70,456.9 1313.00,455.5 1313.30,435.0 1313.60,454.9 1313.90,368.4 1314.20,386.5 1314.50,451.5 1314.80,455.1 1315.10,453.4 1315.40,366.2 1315.70,385.0 1316.00,398.9 1316.30,415.4 1316.60,418.2 1316.90,456.4 1317.20,451.5 1317.50,377.6 1317.80,379.7 1318.10,392.0 1318.40,290.2 1318.70,442.9 1319.00,352.4 1319.30,454.3 1319.60,383.7 1319.90,379.1 1320.20,455.9 1320.50,454.2 1320.80,391.7 1321.10,421.2 1321.40,393.3 1321.70,453.6 1322.00,426.2 1322.30,454.9 1322.60,417.6 1322.90,409.4 1323.20,409.2 1323.50,363.2 1323.80,456.2 1324.10,396.3 1324.40,422.1 1324.70,442.3 1325.00,455.6 1325.30,455.2 1325.60,446.7 1325.90,409.4 1326.20,425.3 1326.50,427.8 1326.80,455.8 1327.10,453.4 1327.40,385.6 1327.70,427.7 1328.00,449.5 1328.30,429.7 1328.60,380.8 1328.90,446.3 1329.20,402.0 1329.50,441.0 1329.80,418.6 1330.10,415.6 1330.40,454.6 1330.70,388.9 1331.00,431.9 1331.30,445.6 1331.60,445.8 1331.70,264.8 1331.90,454.4 1332.20,373.9 1332.50,307.9 1332.80,441.0 1333.10,456.2 1333.40,455.5 1333.70,383.0 1334.00,457.4 1334.30,454.2 1334.60,435.5 1334.90,455.8 1335.20,357.6 1335.50,453.9 1335.80,366.8 1336.10,390.8 1336.40,456.2 1336.70,378.5 1337.00,454.2 1337.30,364.3 1337.60,435.8 1337.90,436.7 1338.20,369.0 1338.50,457.0 1338.80,439.4 1339.10,415.6 1339.40,454.3 1339.70,436.0 1340.00,381.2 1340.30,454.3 1340.60,454.4 1340.90,399.7 1341.20,442.8 1341.50,394.1 1341.80,447.2 1342.10,449.6 1342.40,348.9 1342.70,447.3 1343.00,457.4 1343.30,406.4 1343.60,359.6 1343.90,455.1 1344.20,362.7 1344.50,453.0 1344.80,457.0 1345.10,408.2 1345.40,417.3 1345.70,456.0 1346.00,456.5 1346.30,415.6 1346.60,408.6 1346.90,397.9 1347.20,456.4 1347.50,423.6 1347.80,368.7 1348.10,457.3 1348.40,320.4 1348.70,447.1 1349.00,456.1 1349.30,371.4 1349.60,362.8 1349.90,420.8 1350.20,336.0 1350.50,435.3 1350.80,457.2 1351.10,424.8 1351.40,445.9 1351.70,382.9 1352.00,418.4 1352.30,426.6 1352.60,457.0 1352.90,394.6 1353.20,457.1 1353.50,370.6 1353.80,425.1 1354.00,272.9 1354.10,457.2 1354.40,334.8 1354.70,428.9 1355.00,403.8 1355.30,397.4 1355.60,447.2 1355.90,373.3 1356.20,417.0 1356.50,455.2 1356.80,420.0 1357.10,456.6 1357.40,376.6 1357.70,408.8 1358.00,455.3 1358.30,396.5 1358.60,330.0 1358.90,406.7 1359.20,445.3 1359.50,453.9 1359.80,392.7 1360.10,389.8 1360.40,457.0 1360.70,434.8 1361.00,433.6 1361.30,442.9 1361.60,328.0 1361.90,456.3 1362.20,408.3 1362.50,455.7 1362.80,454.2 1363.10,455.0 1363.40,451.2 1363.70,426.8 1364.00,457.3 1364.30,457.2 1364.60,455.4 1364.90,406.1 1365.20,389.9 1365.50,438.4 1365.80,409.6 1366.10,438.2 1366.40,403.2 1366.70,455.7 1367.00,452.6 1367.30,457.2 1367.60,456.6 1367.90,439.9 1368.20,381.4 1368.50,454.1 1368.80,453.6 1369.10,385.1 1369.40,365.4 1369.70,456.5 1370.00,435.0 1370.30,456.6 1370.50,232.1 1370.60,453.0 1370.90,451.9 1371.20,411.6 1371.50,410.3 1371.80,389.3 1372.10,440.1 1372.40,397.2 1372.70,455.0 1373.00,438.2 1373.30,453.9 1373.60,357.7 1373.90,455.8 1374.20,456.4 1374.50,443.6 1374.80,381.1 1375.10,381.3 1375.40,448.9 1375.70,435.1 1376.00,419.0 1376.30,454.8 1376.60,457.2 1376.90,390.8 1377.20,337.8 1377.50,457.2 1377.80,453.6 1378.10,440.3 1378.40,399.4 1378.70,450.7 1379.00,363.9 1379.30,454.0 1379.60,456.5 1379.90,397.0 1380.20,454.7 1380.20,264.8 1380.50,406.8 1380.80,379.6 1381.10,415.7 1381.40,455.4 1381.70,359.8 1382.00,408.0 1382.30,416.0 1382.60,389.1 1382.90,415.5 1383.20,430.7 1383.50,418.2 1383.80,418.0 1384.10,457.3 1384.40,455.7 1384.70,455.0 1385.00,453.8 1385.30,427.7 1385.60,396.4 1385.90,369.0 1386.20,457.4 1386.50,443.6 1386.80,392.6 1387.10,379.7 1387.40,454.1 1387.70,445.6 1388.00,403.7 1388.30,422.9 1388.60,382.2 1388.90,454.7 1389.20,398.7 1389.50,427.2 1389.80,391.3 1390.10,415.5 1390.40,456.1 1390.70,374.7 1391.00,454.1 1391.30,455.7 1391.60,453.6 1391.90,434.0 1392.20,421.0 1392.50,428.0 1392.80,391.3 1393.10,454.6 1393.40,453.9 1393.70,422.9 1394.00,406.0 1394.30,433.4 1394.60,456.0 1394.90,401.3 1395.20,455.9 1395.50,455.5 1395.80,436.9 1396.10,430.7 1396.40,454.2 1396.70,370.1 1397.00,453.8 1397.30,452.6 1397.60,413.0 1397.90,451.4 1398.20,442.8 1398.50,433.0 1398.80,443.1 1399.10,412.6 1399.40,455.9 1399.70,412.9 1400.00,452.7 1400.30,418.0 1400.60,367.7 1400.90,454.0 1401.20,456.0 1401.50,419.7 1401.80,449.9 1402.10,434.2 1402.40,395.9 1402.70,451.3 1403.00,406.1 1403.30,437.2 1403.60,454.7 1403.90,313.6 1404.20,456.0 1404.50,440.4 1404.80,454.3 1405.10,453.9 1405.40,414.1 1405.70,391.1 1406.00,415.0 1406.30,429.6 1406.60,429.3 1406.90,404.9 1407.20,404.0 1407.50,435.4 1407.80,437.9 1408.00,153.1 1408.10,431.1 1408.40,440.9 1408.70,440.0 1409.00,435.0 1409.30,371.8 1409.40,153.1 1409.60,436.2 1409.90,382.7 1410.20,406.6 1410.50,432.0 1410.80,414.5 1411.10,439.3 1411.40,431.4 1411.70,376.2 1412.00,382.7 1412.30,351.0 1412.60,361.3 1412.90,352.5 1413.20,440.2 1413.50,320.7 1413.80,388.2 1414.10,386.8 1414.40,383.0 1414.70,305.8 1415.00,427.2 1415.30,335.9 1415.60,382.6 1415.90,318.6 1416.20,432.3 1416.50,383.6 1416.80,431.0 1417.10,438.4 1417.40,438.9 1417.70,413.9 1418.00,428.9 1418.30,440.5 1418.60,379.9 1418.90,366.1 1419.20,245.9 1419.50,335.0 1419.80,308.1 1420.10,456.4 1420.40,454.8 1420.70,455.9 1421.00,388.8 1421.00,55.0 1421.30,454.5 1421.60,312.7 1421.90,425.0 1422.20,390.1 1422.40,55.0 1422.50,353.8 1422.80,453.6 1423.10,455.4 1423.40,455.4 1423.70,399.1 1424.00,437.2 1424.30,455.6 1424.60,401.8 1424.90,432.3 1425.20,456.0 1425.30,161.2 1425.50,347.4 1425.80,434.9 1426.10,329.6 1426.40,456.0 1426.70,308.4 1426.70,161.2 1427.00,454.0 1427.30,348.4 1427.60,450.1 1427.90,455.8 1428.20,401.0 1428.50,453.5 1428.80,454.0 1429.10,417.0 1429.40,433.3 1429.70,371.5 1430.00,380.6 1430.30,434.9 1430.60,408.4 1430.90,438.6 1431.20,425.9 1431.50,429.0 1431.50,55.0 1431.80,295.7 1432.10,432.4 1432.40,351.7 1432.70,373.8 1432.90,55.0 1433.00,424.5 1433.30,378.7 1433.60,433.0 1433.90,439.4 1434.20,367.9 1434.50,435.9 1434.80,382.6 1435.10,362.3 1435.40,453.5 1435.70,456.4 1436.00,454.9 1436.30,455.8 1436.60,423.7 1436.90,455.4 1437.20,326.9 1437.50,430.2 1437.80,429.1 1438.10,453.6 1438.40,440.1 1438.70,456.1 1439.00,403.7 1439.30,307.3 1439.60,392.6 1439.90,455.9 1440.20,376.0 1440.50,413.5 1440.80,457.4 1441.10,457.1 1441.40,394.8 1441.70,371.9 1442.00,448.4 1442.30,417.5 1442.60,368.4 1442.90,407.3 1443.20,436.5 1443.50,384.0 1443.80,428.4 1444.10,457.0 1444.40,454.2 1444.70,456.5 1445.00,365.1 1445.30,385.0 1445.60,456.7 1445.90,454.2 1446.20,438.0 1446.50,432.2 1446.80,456.2 1447.10,426.3 1447.40,323.7 1447.70,413.1 1448.00,450.1 1448.30,379.7 1448.60,371.1 1448.90,420.2 1449.20,430.1 1449.50,454.9 1449.80,454.2 1450.10,454.5 1450.40,454.4 1450.70,357.5 1451.00,398.7 1451.30,457.5 1451.60,405.7 1451.90,447.3 1452.20,364.7 1452.50,357.2 1452.80,392.4 1453.10,454.0 1453.40,418.4 1453.70,391.0 1454.00,427.5 1454.30,454.6 1454.60,419.2 1454.90,454.7 1455.20,456.6 1455.50,358.2 1455.80,323.8 1456.10,371.1 1456.40,453.9 1456.70,401.8 1457.00,454.0 1457.30,454.9 1457.60,369.2 1457.90,456.5 1458.20,418.0 1458.50,338.1 1458.80,361.9 1459.10,384.3 1459.40,445.0 1459.70,450.5 1460.00,456.7 1460.20,262.8 1460.30,446.6 1460.60,365.4 1460.90,372.4 1461.20,381.4 1461.50,426.5 1461.80,417.9 1462.10,453.6 1462.40,379.3 1462.70,457.4 1463.00,454.4 1463.30,406.2 1463.60,370.5 1463.90,361.2 1464.20,455.7 1464.50,455.8 1464.80,453.8 1465.10,444.9 1465.40,422.5 1465.70,455.2 1466.00,353.1 1466.30,416.5 1466.60,456.7 1466.90,453.8 1467.20,351.3 1467.50,359.0 1467.70,188.3 1467.80,416.2 1468.10,456.8 1468.40,453.8 1468.70,429.2 1469.00,450.2 1469.10,188.3 1469.30,371.4 1469.60,436.7 1469.90,449.7 1470.20,454.9 1470.50,457.1 1470.80,457.2 1471.10,409.7 1471.40,410.8 1471.70,423.2 1472.00,354.9 1472.30,360.2 1472.60,456.8 1472.90,391.9 1473.20,361.3 1473.50,371.2 1473.80,368.6 1474.10,446.0 1474.40,453.6 1474.70,377.6 1475.00,454.0 1475.30,380.9 1475.60,362.9 1475.90,389.5 1476.20,390.5 1476.50,379.1 1476.80,374.8 1476.80,242.2 1477.10,348.9 1477.40,454.0 1477.70,454.8 1478.00,454.7 1478.30,422.6 1478.60,454.8 1478.90,414.8 1479.20,455.1 1479.50,368.3 1479.80,455.5 1480.10,453.8 1480.40,450.3 1480.70,384.0 1481.00,456.5 1481.30,452.9 1481.60,437.3 1481.90,457.4 1482.20,359.4 1482.50,446.4 1482.80,401.3 1483.10,377.2 1483.40,425.4 1483.70,425.5 1484.00,372.6 1484.30,438.6 1484.60,384.8 1484.90,402.7 1485.20,457.3 1485.50,439.9 1485.80,381.6 1486.10,456.0 1486.40,387.6 1486.70,454.8 1487.00,397.5 1487.30,392.0 1487.60,455.7 1487.90,391.8 1488.20,425.1 1488.50,430.2 1488.80,354.4 1489.10,424.9 1489.40,456.2 1489.70,441.7 1490.00,427.0 1490.30,431.7 1490.60,454.7 1490.90,391.1 1491.20,389.1 1491.50,383.4 1491.80,432.7 1492.10,431.9 1492.40,456.2 1492.40,244.2 1492.70,454.8 1493.00,397.4 1493.30,456.1 1493.60,400.5 1493.90,332.5 1494.20,399.5 1494.50,456.8 1494.80,456.7 1495.10,363.8 1495.40,370.2 1495.70,416.0 1496.00,398.1 1496.30,453.0 1496.60,420.2 1496.90,457.0 1497.20,392.0 1497.50,443.0 1497.80,453.5 1498.10,357.0 1498.40,371.6 1498.70,299.4 1499.00,374.1 1499.30,375.1 1499.60,445.7 1499.90,375.4 1500.20,455.7 1500.50,431.1 1500.80,348.3 1501.10,401.7 1501.40,398.8 1501.70,411.0 1502.00,451.9 1502.30,374.5 1502.60,432.4 1502.90,437.6 1503.20,394.5 1503.50,445.0 1503.80,357.8 1504.10,454.0 1504.40,374.6 1504.70,429.7 1505.00,420.0 1505.30,456.7 1505.60,303.4 1505.90,421.6 1506.20,454.5 1506.50,455.7 1506.80,368.9 1507.10,451.0 1507.40,453.9 1507.70,456.0 1508.00,456.3 1508.30,454.4 1508.60,407.5 1508.90,391.5 1509.20,443.6 1509.30,166.7 1509.50,340.0 1509.80,457.3 1510.10,440.6 1510.40,449.1 1510.70,395.9 1510.70,166.7 1511.00,412.2 1511.30,402.0 1511.60,400.6 1511.90,357.7 1512.20,428.2 1512.50,430.6 1512.70,163.2 1512.80,386.3 1513.10,380.4 1513.40,358.0 1513.70,418.4 1514.00,435.9 1514.10,163.2 1514.30,367.4 1514.60,438.6 1514.90,431.0 1515.20,430.7 1515.50,352.4 1515.80,391.8 1516.10,372.5 1516.40,381.8 1516.70,403.6 1517.00,432.8 1517.30,440.7 1517.60,366.6 1517.90,436.1 1518.20,436.1 1518.50,427.7 1518.80,431.6 1519.10,438.4 1519.40,437.9 1519.70,447.2 1520.00,414.0 1520.30,453.6 1520.60,443.4 1520.90,448.9 1521.20,403.3 1521.50,441.3 1521.80,455.8 1522.10,393.0 1522.40,329.5 1522.70,395.6 1523.00,438.9 1523.30,437.1 1523.60,419.7 1523.90,455.0 1524.20,457.1 1524.50,455.2 1524.80,455.6 1525.10,454.9 1525.40,402.9 1525.70,455.2 1526.00,454.5 1526.30,423.6 1526.60,433.5 1526.90,351.6 1527.20,449.9 1527.50,455.9 1527.80,386.1 1528.10,453.8 1528.40,454.2 1528.70,453.6 1529.00,428.3 1529.30,429.5 1529.60,423.9 1529.90,439.3 1530.20,408.4 1530.50,434.4 1530.80,428.1 1531.10,449.7 1531.40,455.9 1531.70,455.4 1532.00,411.6 1532.30,380.2 1532.60,439.9 1532.90,454.3 1533.20,456.5 1533.50,444.5 1533.80,440.4 1534.10,418.2 1534.40,422.3 1534.70,412.6 1535.00,400.1 1535.30,457.1 1535.60,453.5 1535.90,436.2 1536.20,366.7 1536.50,455.6 1536.70,263.8 1536.80,453.6 1537.10,457.4 1537.40,457.2 1537.70,433.0 1538.00,454.0 1538.30,456.4 1538.60,417.2 1538.90,440.5 1539.20,400.2 1539.50,456.2 1539.80,456.3 1540.10,433.5 1540.40,395.0 1540.70,455.8 1541.00,389.0 1541.30,457.4 1541.60,370.7 1541.90,448.8 1542.20,454.0 1542.50,457.0 1542.80,397.5 1543.10,416.8 1543.40,454.0 1543.70,435.5 1544.00,435.6 1544.30,336.4 1544.60,455.4 1544.90,416.3 1545.20,438.6 1545.50,456.7 1545.80,449.8 1546.10,454.0 1546.40,448.3 1546.70,454.8 1547.00,387.5 1547.30,455.3 1547.60,455.0 1547.90,453.2 1548.20,407.2 1548.50,390.0 1548.80,376.0 1549.10,333.6 1549.40,457.5 1549.70,378.0 1550.00,456.4 1550.30,454.4 1550.60,402.0 1550.90,455.9 1551.20,454.3 1551.50,454.3 1551.80,450.6 1552.10,404.7 1552.40,438.1 1552.70,456.3 1553.00,451.7 1553.30,388.8 1553.60,423.0 1553.90,371.4 1554.20,442.1 1554.50,433.8 1554.80,432.5 1555.10,444.1 1555.40,444.6 1555.70,368.0 1556.00,457.2 1556.30,406.9 1556.60,398.1 1556.90,456.9 1557.20,370.9 1557.50,455.8 1557.80,338.7 1558.10,455.8 1558.40,455.9 1558.70,455.0 1559.00,405.4 1559.30,456.5 1559.60,456.8 1559.90,367.9 1560.20,394.0 1560.50,413.5 1560.80,368.6 1561.10,415.6 1561.40,447.5 1561.70,456.8 1562.00,456.3 1562.30,455.0 1562.60,418.5 1562.90,350.9 1563.20,374.4 1563.50,453.0 1563.80,386.2 1564.10,445.4 1564.40,404.9 1564.70,399.6 1565.00,392.2 1565.30,455.5 1565.60,360.4 1565.90,454.5 1566.20,454.5 1566.50,457.2 1566.80,449.9 1567.10,374.3 1567.40,414.9 1567.70,442.4 1568.00,454.2 1568.30,455.4 1568.60,445.4 1568.90,409.2 1569.20,402.5 1569.50,306.8 1569.80,454.9 1570.10,372.5 1570.40,388.8 1570.70,425.4 1571.00,456.5 1571.30,443.4 1571.60,386.4 1571.90,443.8 1572.20,453.6 1572.50,457.2 1572.80,394.3 1573.10,423.0 1573.40,392.4 1573.70,331.7 1574.00,390.7 1574.30,403.5 1574.60,410.3 1574.90,378.3 1575.20,452.3 1575.50,380.9 1575.80,421.1 1576.10,403.4 1576.40,407.2 1576.70,432.3 1577.00,457.2 1577.30,357.5 1577.60,423.7 1577.90,456.5 1578.20,456.1 1578.50,415.3 1578.80,403.7 1579.10,454.7 1579.40,454.1 1579.70,392.0 1580.00,395.8 1580.30,431.9 1580.60,453.1 1580.90,385.0 1581.20,455.8 1581.50,456.4 1581.80,385.7 1582.10,441.0 1582.40,346.5 1582.70,422.2 1583.00,429.2 1583.30,456.9 1583.60,399.0 1583.90,358.9 1584.20,457.3 1584.50,430.2 1584.80,311.2 1585.10,401.3 1585.40,425.3 1585.70,398.2 1586.00,396.4 1586.30,384.5 1586.60,447.0 1586.90,395.0 1587.20,457.2 1587.50,340.4 1587.80,457.0 1588.10,457.4 1588.40,453.5 1588.70,442.1 1589.00,455.2 1589.30,457.3 1589.60,453.6 1589.90,345.7 1590.00,244.7 1590.20,382.8 1590.50,454.1 1590.80,384.4 1591.10,448.6 1591.40,284.2 1591.70,457.3 1592.00,457.5 1592.30,339.5 1592.60,429.2 1592.90,455.0 1593.20,298.1 1593.50,359.3 1593.80,456.6 1594.10,327.3 1594.40,455.9 1594.70,378.5 1595.00,400.8 1595.30,454.6 1595.60,294.8 1595.90,425.8 1596.10,61.5 1596.20,404.2 1596.50,453.6 1596.80,378.1 1597.10,343.9 1597.40,333.1 1597.50,61.5 1597.70,446.1 1598.00,457.2 1598.30,453.5 1598.60,456.3 1598.90,454.1 1599.20,429.3 1599.50,302.9 1599.80,382.0 1600.10,332.3 1600.30,119.9 1600.40,454.5 1600.70,382.1 1601.00,457.2 1601.30,449.5 1601.60,412.2 1601.70,119.9 1601.90,359.3 1602.20,385.8 1602.50,384.0 1602.80,429.9 1603.10,299.6 1603.40,406.9 1603.70,439.0 1604.00,335.9 1604.30,408.4 1604.60,398.7 1604.90,434.1 1605.20,389.0 1605.30,191.8 1605.50,439.9 1605.80,321.2 1606.10,429.1 1606.40,440.7 1606.70,428.3 1606.70,191.8 1607.00,442.1 1607.30,426.7 1607.60,433.7 1607.90,321.6 1608.20,324.5 1608.50,420.4 1608.80,444.1 1609.10,416.4 1609.40,418.9 1609.70,337.5 1610.00,456.6 1610.30,332.6 1610.60,322.0 1610.90,342.6 1611.20,414.8 1611.50,454.6 1611.80,349.4 1612.10,374.7 1612.40,347.0 1612.70,453.7 1613.00,454.6 1613.30,365.9 1613.60,454.1 1613.90,359.4 1614.20,457.0 1614.50,347.5 1614.80,456.8 1615.10,360.7 1615.40,456.1 1615.70,427.7 1616.00,400.3 1616.30,454.4 1616.60,326.6 1616.90,387.0 1617.20,449.8 1617.50,325.1 1617.80,328.2 1618.10,451.7 1618.40,454.7 1618.70,377.1 1619.00,454.5 1619.30,367.7 1619.60,456.1 1619.90,427.9 1620.20,327.8 1620.50,453.8 1620.80,453.9 1620.80,125.4 1621.10,455.7 1621.40,443.3 1621.70,457.0 1622.00,406.1 1622.20,125.4 1622.30,440.3 1622.60,453.6 1622.90,440.1 1623.20,357.7 1623.50,449.7 1623.80,361.5 1624.10,379.7 1624.40,456.1 1624.70,455.5 1624.70,74.1 1625.00,419.4 1625.30,455.5 1625.60,353.6 1625.90,456.9 1626.10,74.1 1626.20,444.9 1626.50,375.7 1626.80,457.5 1627.10,353.9 1627.40,422.2 1627.70,456.0 1628.00,367.4 1628.10,120.9 1628.30,437.2 1628.60,332.5 1628.90,345.5 1629.20,352.1 1629.50,353.1 1629.50,120.9 1629.80,311.1 1630.10,454.4 1630.40,421.0 1630.70,455.6 1631.00,456.2 1631.30,397.8 1631.60,373.2 1631.90,373.3 1632.20,354.1 1632.50,389.8 1632.80,363.4 1633.10,452.6 1633.40,456.5 1633.70,419.0 1634.00,304.6 1634.30,455.2 1634.60,455.7 1634.90,450.4 1635.20,456.2 1635.50,456.6 1635.80,433.0 1636.10,316.4 1636.40,455.3 1636.70,387.1 1637.00,457.5 1637.30,456.4 1637.60,446.1 1637.90,359.5 1638.20,457.0 1638.50,455.2 1638.80,454.7 1639.10,407.3 1639.40,439.8 1639.70,456.6 1640.00,427.1 1640.30,399.3 1640.60,446.5 1640.90,456.9 1641.20,456.9 1641.50,455.0 1641.80,457.2 1642.10,375.1 1642.40,457.1 1642.70,388.5 1643.00,343.1 1643.30,457.5 1643.60,449.6 1643.90,386.8 1644.20,447.4 1644.50,382.4 1644.80,419.3 1645.10,374.1 1645.40,422.5 1645.70,457.1 1646.00,413.0 1646.30,427.6 1646.60,454.8 1646.90,391.3 1647.20,453.7 1647.50,455.6 1647.80,408.6 1648.10,318.0 1648.40,447.1 1648.70,456.2 1649.00,456.7 1649.30,405.4 1649.60,402.6 1649.90,386.7 1650.20,453.9 1650.50,452.3 1650.80,369.1 1651.10,456.5 1651.40,364.2 1651.70,421.6 1652.00,456.9 1652.30,437.7 1652.60,381.6 1652.90,408.0 1653.20,412.1 1653.50,455.7 1653.80,457.3 1654.10,383.6 1654.40,430.7 1654.70,430.6 1655.00,427.3 1655.30,436.9 1655.60,390.7 1655.90,423.6 1656.20,455.4 1656.50,455.3 1656.80,456.4 1657.10,431.2 1657.40,380.7 1657.70,436.8 1658.00,386.6 1658.30,429.7 1658.60,318.4 1658.90,437.1 1659.20,439.4 1659.50,425.4 1659.80,401.0 1660.10,431.8 1660.30,257.3 1660.40,346.0 1660.70,439.7 1661.00,440.3 1661.30,448.5 1661.60,368.0 1661.90,453.1 1662.20,454.8 1662.50,430.2 1662.80,439.9 1663.10,456.1 1663.40,445.1 1663.70,454.0 1664.00,375.8 1664.30,372.2 1664.60,454.2 1664.90,415.4 1665.20,456.5 1665.50,334.4 1665.80,409.9 1666.10,418.5 1666.40,379.2 1666.70,378.6 1667.00,456.6 1667.20,236.6 1667.30,407.4 1667.60,388.7 1667.90,456.2 1668.20,413.6 1668.50,418.9 1668.80,304.8 1669.10,428.0 1669.40,412.9 1669.70,455.2 1670.00,456.0 1670.30,424.6 1670.60,424.6 1670.90,377.0 1671.20,454.4 1671.50,423.7 1671.80,389.0 1672.10,355.0 1672.40,375.0 1672.70,412.0 1673.00,454.7 1673.30,456.2 1673.60,448.9 1673.90,421.2 1674.20,428.8 1674.50,431.1 1674.50,275.4 1674.80,372.3 1675.10,362.2 1675.40,380.5 1675.70,344.0 1676.00,360.1 1676.30,457.2 1676.60,445.6 1676.90,356.6 1677.20,456.1 1677.50,435.7 1677.80,457.1 1678.10,447.9 1678.40,341.6 1678.70,345.7 1679.00,320.6 1679.30,388.3 1679.50,203.4 1679.60,454.5 1679.90,400.6 1680.20,400.6 1680.50,393.2 1680.80,456.7 1680.90,203.4 1681.10,303.9 1681.40,377.9 1681.70,332.8 1682.00,452.3 1682.30,437.2 1682.60,457.3 1682.90,453.5 1683.20,454.2 1683.50,337.9 1683.80,426.9 1684.10,454.9 1684.40,426.9 1684.70,456.3 1685.00,284.2 1685.30,415.7 1685.60,419.0 1685.90,438.6 1686.20,452.7 1686.50,415.8 1686.80,456.4 1687.10,456.8 1687.40,336.5 1687.70,359.1 1688.00,457.1 1688.20,192.9 1688.30,381.9 1688.60,456.2 1688.90,370.1 1689.20,420.0 1689.50,446.5 1689.60,192.9 1689.80,378.6 1690.10,415.0 1690.40,455.7 1690.70,424.8 1691.00,437.7 1691.30,441.9 1691.60,456.2 1691.90,456.9 1692.10,144.1 1692.20,324.4 1692.50,419.6 1692.80,456.4 1693.10,455.8 1693.40,457.0 1693.50,144.1 1693.70,425.0 1694.00,405.7 1694.30,331.9 1694.40,201.9 1694.60,362.1 1694.90,335.6 1695.20,399.3 1695.50,428.4 1695.80,456.4 1695.80,201.9 1696.10,341.8 1696.40,455.0 1696.70,450.6 1697.00,454.2 1697.30,376.9 1697.60,455.3 1697.90,443.7 1698.20,456.6 1698.50,432.4 1698.80,448.3 1699.10,348.8 1699.40,427.6 1699.70,453.6 1700.00,365.3 1700.30,362.8 1700.60,443.8 1700.90,406.1 1701.20,365.1 1701.50,454.9 1701.80,412.2 1702.10,457.1 1702.40,417.6 1702.70,434.1 1703.00,320.0 1703.30,447.9 1703.60,456.3 1703.90,367.2 1704.20,447.1 1704.50,410.6 1704.80,392.6 1705.10,433.9 1705.40,354.4 1705.70,433.1 1706.00,454.9 1706.30,454.5 1706.60,371.4 1706.90,444.1 1707.20,372.2 1707.50,422.2 1707.80,456.3 1708.10,454.2 1708.40,456.0 1708.70,362.8 1709.00,322.6 1709.30,450.4 1709.60,360.5 1709.90,384.5 1710.20,444.7 1710.50,363.5 1710.80,453.5 1711.10,456.5 1711.40,457.1 1711.70,407.5 1712.00,427.0 1712.30,378.0 1712.60,455.6 1712.90,455.8 1713.20,453.0 1713.40,222.5 1713.50,400.9 1713.80,447.4 1714.10,414.8 1714.40,456.5 1714.70,438.1 1715.00,457.2 1715.30,454.6 1715.60,457.4 1715.90,337.8 1716.20,445.6 1716.50,352.5 1716.80,453.7 1717.10,456.1 1717.40,457.4 1717.70,449.4 1718.00,438.2 1718.30,412.1 1718.60,379.7 1718.90,364.4 1719.20,453.6 1719.50,455.7 1719.80,456.6 1720.00,182.8 1720.10,358.7 1720.40,388.7 1720.70,356.1 1721.00,439.8 1721.30,317.3 1721.40,182.8 1721.60,435.7 1721.90,435.9 1722.20,363.3 1722.50,382.1 1722.80,370.5 1723.10,441.5 1723.40,309.1 1723.70,428.7 1724.00,439.4 1724.30,435.6 1724.60,359.8 1724.90,421.4 1725.20,435.5 1725.50,336.5 1725.50,217.0 1725.80,384.8 1726.10,435.0 1726.40,437.8 1726.70,389.9 1727.00,439.3 1727.30,314.5 1727.60,348.5 1727.90,429.3 1728.20,432.1 1728.50,425.4 1728.80,427.1 1729.10,436.7 1729.40,439.2 1729.70,435.5 1729.80,164.2 1730.00,284.8 1730.30,428.6 1730.60,346.5 1730.90,431.4 1731.20,454.0 1731.20,164.2 1731.50,431.9 1731.80,376.3 1732.10,426.1 1732.40,288.8 1732.70,453.6 1733.00,431.9 1733.30,439.0 1733.60,436.6 1733.90,457.5 1734.20,390.0 1734.50,411.5 1734.60,226.1 1734.80,402.1 1735.10,454.2 1735.40,429.5 1735.70,454.7 1736.00,456.9 1736.30,454.5 1736.60,433.5 1736.90,449.4 1737.20,453.8 1737.50,342.4 1737.80,455.6 1738.10,412.6 1738.40,397.9 1738.70,405.5 1739.00,454.0 1739.30,431.7 1739.60,433.5 1739.90,452.4 1740.20,454.8 1740.50,453.7 1740.80,456.1 1741.10,358.7 1741.20,266.3 1741.40,452.2 1741.70,457.5 1742.00,418.4 1742.30,455.1 1742.60,422.5 1742.90,444.5 1743.20,454.0 1743.50,409.1 1743.80,432.3 1744.10,383.5 1744.40,384.9 1744.70,391.4 1745.00,432.0 1745.30,386.4 1745.60,377.3 1745.90,399.3 1746.20,436.1 1746.50,390.3 1746.80,455.3 1747.10,418.0 1747.40,455.0 1747.70,454.6 1748.00,418.7 1748.30,451.2 1748.60,406.6 1748.90,387.1 1749.20,445.8 1749.50,420.7 1749.80,428.6 1750.10,456.5 1750.40,404.2 1750.70,403.6 1751.00,456.4 1751.30,457.5 1751.60,434.3 1751.90,456.6 1752.20,374.8 1752.50,455.7 1752.80,454.6 1753.10,457.4 1753.40,456.4 1753.70,411.0 1754.00,454.1 1754.30,440.9 1754.60,384.4 1754.90,457.2 1755.20,456.3 1755.50,447.7 1755.60,243.2 1755.80,455.0 1756.10,376.3 1756.40,400.3 1756.70,456.7 1757.00,453.8 1757.30,350.4 1757.60,396.3 1757.70,155.6 1757.90,378.2 1758.20,445.2 1758.50,397.9 1758.80,447.9 1759.10,424.6 1759.10,155.6 1759.40,435.4 1759.70,407.7 1760.00,364.8 1760.30,378.7 1760.60,385.8 1760.90,454.9 1761.20,448.3 1761.50,456.0 1761.80,399.9 1762.10,434.9 1762.40,380.8 1762.70,445.4 1763.00,373.3 1763.30,395.5 1763.60,454.7 1763.90,411.1 1764.20,382.0 1764.50,328.8 1764.80,384.2 1765.10,383.0 1765.40,455.0 1765.70,455.2 1766.00,455.6 1766.30,423.1 1766.60,320.0 1766.90,455.1 1767.20,457.2 1767.50,377.4 1767.80,393.0 1768.10,434.5 1768.40,420.2 1768.70,414.8 1769.00,377.8 1769.30,418.1 1769.60,454.4 1769.90,453.6 1770.20,453.3 1770.50,416.5 1770.80,456.9 1771.10,393.3 1771.40,383.4 1771.70,449.8 1772.00,318.4 1772.30,454.8 1772.60,454.5 1772.90,457.4 1773.20,434.7 1773.50,417.5 1773.80,427.1 1774.10,382.3 1774.40,328.8 1774.70,454.6 1775.00,421.4 1775.30,457.0 1775.60,451.4 1775.90,425.2 1776.20,427.6 1776.50,455.0 1776.80,437.3 1777.10,453.5 1777.40,441.3 1777.70,454.4 1778.00,455.6 1778.30,456.5 1778.60,314.3 1778.90,403.1 1779.20,457.0 1779.50,457.1 1779.80,454.5 1780.10,390.8 1780.40,390.9 1780.70,387.9 1781.00,399.8 1781.30,338.5 1781.60,422.1 1781.90,426.9 1782.20,456.4 1782.50,416.9 1782.80,441.3 1783.10,371.4 1783.40,402.9 1783.70,454.3 1784.00,456.4 1784.30,396.5 1784.60,456.3 1784.90,422.2 1785.20,456.6 1785.50,367.3 1785.80,412.0 1786.10,456.7 1786.40,434.8 1786.70,455.7 1786.90,131.5 1787.00,369.2 1787.30,438.8 1787.60,368.8 1787.90,455.1 1788.20,392.2 1788.30,131.5 1788.50,455.6 1788.80,456.3 1789.10,429.2 1789.40,308.9 1789.70,453.7 1790.00,347.6 1790.30,421.5 1790.60,454.9 1790.90,408.6 1791.20,357.1 1791.50,454.1 1791.80,454.7 1792.10,412.4 1792.40,437.0 1792.70,456.7 1792.90,256.2 1793.00,453.6 1793.30,454.6 1793.60,383.4 1793.90,424.7 1794.20,283.5 1794.50,442.4 1794.80,343.5 1795.10,453.7 1795.40,434.6 1795.70,455.2 1796.00,290.4 1796.30,456.6 1796.60,361.5 1796.80,55.0 1796.90,453.4 1797.20,436.9 1797.50,454.7 1797.80,364.6 1798.10,454.3 1798.20,55.0 1798.40,403.5 1798.70,349.3 1799.00,286.6 1799.30,449.6 1799.60,434.1 1799.90,337.1 1800.20,451.4 1800.50,454.8 1800.80,449.2 1801.10,445.1 1801.40,328.5 1801.70,384.7 1802.00,427.8 1802.30,457.2 1802.50,206.9 1802.60,446.7 1802.90,455.6 1803.20,455.9 1803.50,337.7 1803.80,392.0 1804.10,455.3 1804.40,352.8 1804.70,296.6 1805.00,452.2 1805.30,390.7 1805.60,431.9 1805.90,387.5 1806.20,332.7 1806.50,391.9 1806.80,359.4 1806.80,140.5 1807.10,425.4 1807.40,456.1 1807.70,457.5 1808.00,456.8 1808.20,140.5 1808.30,440.7 1808.60,435.3 1808.90,290.0 1809.20,388.0 1809.50,453.8 1809.80,372.4 1810.10,375.1 1810.40,360.4 1810.70,345.8 1811.00,414.5 1811.30,457.1 1811.60,455.5 1811.90,457.1 1812.20,457.0 1812.50,447.7 1812.80,360.7 1813.10,457.2 1813.40,454.5 1813.70,366.0 1814.00,455.1 1814.30,341.1 1814.60,404.8 1814.90,351.2 1815.20,351.4 1815.50,437.0 1815.80,456.1 1816.10,389.1 1816.40,356.5 1816.70,454.4 1817.00,350.1 1817.10,195.4 1817.30,404.8 1817.60,414.2 1817.90,406.1 1818.20,454.1 1818.50,425.2 1818.50,195.4 1818.80,454.4 1819.10,422.1 1819.40,436.5 1819.70,362.7 1820.00,342.0 1820.30,438.4 1820.60,365.1 1820.90,439.8 1821.20,365.5 1821.50,428.7 1821.80,344.6 1821.90,256.2 1822.10,428.5 1822.40,429.8 1822.70,428.8 1823.00,337.2 1823.30,432.7 1823.50,218.0 1823.60,432.5 1823.90,428.0 1824.20,429.5 1824.50,368.0 1824.80,422.4 1825.10,433.7 1825.40,432.1 1825.70,429.8 1826.00,424.1 1826.30,451.6 1826.60,393.9 1826.90,430.8 1827.20,453.7 1827.50,351.5 1827.80,359.6 1828.10,380.8 1828.40,375.8 1828.70,455.7 1829.00,350.7 1829.30,403.9 1829.60,368.5 1829.90,393.0 1830.20,455.6 1830.50,417.9 1830.80,450.7 1831.10,364.9 1831.40,416.0 1831.70,450.2 1832.00,361.5 1832.30,454.5 1832.60,389.7 1832.60,140.5 1832.90,350.6 1833.20,398.0 1833.50,424.8 1833.80,439.7 1834.00,140.5 1834.10,455.6 1834.40,408.3 1834.70,454.3 1835.00,433.2" fill="none" stroke="#4333D6" stroke-width="5.5" stroke-linejoin="round" stroke-linecap="round"/>
<polyline points="928.70,450.8 928.80,432.3 929.00,436.3 929.30,445.4 929.90,446.0 930.50,449.0 930.80,439.5 931.10,434.1 931.40,433.3 932.30,435.4 932.60,431.6 932.90,431.5 933.20,428.6 934.10,448.7 935.00,447.4 935.60,444.4 935.90,447.7 936.20,445.7 936.50,443.4 936.50,447.4 937.70,449.1 938.30,445.8 939.20,450.0 939.50,446.9 940.10,444.8 940.40,451.8 941.00,438.3 941.30,429.7 941.60,446.0 941.90,440.6 942.50,447.5 943.00,447.4 944.00,446.0 944.60,444.7 945.20,445.1 945.50,442.8 947.30,444.1 948.50,450.9 948.80,443.7 949.10,447.3 949.70,448.3 950.60,449.6 950.90,444.5 951.20,447.0 951.50,438.4 952.10,434.7 952.60,286.9 952.70,435.3 953.60,444.1 954.20,451.3 954.50,447.4 955.10,449.6 955.40,445.9 956.30,443.5 956.50,392.1 957.80,448.6 958.40,448.7 958.70,447.6 959.30,448.1 960.20,449.5 960.50,452.3 960.50,407.2 961.10,446.3 961.70,439.6 962.90,445.5 965.30,423.5 965.60,433.1 966.20,446.6 966.50,450.6 966.80,445.2 967.40,444.8 968.00,417.2 968.30,448.4 968.60,447.0 969.20,452.0 970.10,425.7 972.20,447.8 972.80,452.4 973.10,450.1 975.20,433.2 976.40,450.5 976.70,445.0 977.00,436.5 977.40,372.0 977.60,417.8 978.20,442.3 978.50,435.1 979.10,446.9 980.00,442.1 981.20,451.8 982.10,444.1 982.40,452.1 982.70,445.0 983.60,442.8 984.50,448.7 985.10,446.2 985.70,448.5 986.30,449.5 986.90,445.9 987.50,445.7 987.80,446.9 988.00,387.1 988.40,447.9 988.70,445.8 989.60,450.6 990.20,427.1 990.50,450.9 990.80,445.6 991.10,434.2 991.70,448.4 992.00,451.2 992.00,407.2 992.30,444.1 992.90,451.8 993.20,444.0 993.80,447.5 994.40,445.2 994.70,443.5 995.30,445.8 995.60,444.8 995.90,445.6 996.50,448.6 996.50,412.2 996.80,438.2 997.10,446.5 998.30,443.6 998.60,446.9 998.90,421.6 999.80,443.4 1001.60,431.5 1001.90,443.6 1002.20,450.1 1002.50,451.8 1003.00,407.2 1003.10,426.8 1005.20,431.5 1007.30,449.0 1007.60,447.0 1008.20,446.9 1010.00,445.8 1010.30,450.7 1010.90,448.2 1011.20,423.3 1012.00,417.2 1012.10,445.7 1012.40,434.2 1013.00,447.6 1014.20,446.7 1014.80,447.2 1015.70,452.5 1016.30,430.3 1016.60,445.3 1017.00,285.4 1018.10,451.8 1018.40,423.1 1019.30,428.8 1019.60,450.8 1020.20,452.1 1021.10,450.0 1021.40,431.1 1021.70,446.7 1022.60,448.3 1022.90,444.8 1023.50,421.8 1024.00,417.2 1024.70,451.8 1025.60,436.3 1025.90,447.7 1026.20,446.5 1026.50,446.3 1026.80,450.1 1028.90,426.1 1029.20,449.6 1029.50,440.9 1029.80,346.8 1030.10,429.2 1030.70,450.9 1031.90,446.1 1032.50,432.6 1033.00,412.2 1033.10,449.0 1033.40,445.2 1034.90,450.6 1035.20,448.8 1035.50,436.1 1036.70,447.8 1037.00,429.5 1037.60,442.7 1039.10,448.7 1040.60,447.3 1040.90,421.4 1041.20,440.5 1042.10,452.9 1042.40,346.8 1042.70,446.5 1044.20,441.6 1046.30,447.3 1046.60,442.2 1047.80,450.1 1048.10,436.4 1048.40,448.5 1048.40,382.0 1049.30,452.0 1051.40,445.0 1051.70,441.8 1052.00,429.6 1052.60,426.4 1052.90,422.1 1053.20,424.3 1053.50,403.7 1053.80,432.3 1054.10,424.6 1054.40,436.8 1055.00,441.6 1055.90,441.9 1056.20,424.2 1056.50,431.6 1057.40,419.3 1057.70,432.0 1058.00,417.9 1059.50,434.6 1060.10,437.8 1060.70,436.0 1061.60,421.6 1062.50,427.4 1063.10,431.5 1063.40,426.7 1065.80,421.4 1066.40,432.5 1066.70,424.2 1067.30,443.6 1067.90,420.3 1068.50,414.4 1068.80,422.9 1069.10,421.6 1069.40,415.7 1071.50,421.5 1071.80,434.0 1072.70,443.2 1073.00,426.4 1073.30,418.6 1074.50,428.9 1074.80,417.6 1076.60,431.9 1076.90,418.5 1077.50,443.4 1077.80,418.7 1078.40,430.1 1079.60,421.8 1080.20,407.3 1081.10,434.3 1081.70,416.4 1082.00,419.8 1082.90,427.3 1085.30,440.9 1086.80,418.6 1087.10,428.6 1087.70,439.6 1088.60,432.1 1089.20,443.1 1089.80,422.8 1090.10,430.1 1090.40,427.0 1090.70,417.1 1091.30,424.8 1091.60,436.4 1093.10,430.0 1094.00,423.4 1094.30,426.6 1094.60,436.9 1095.20,430.1 1095.50,423.5 1095.60,417.2 1096.70,431.6 1097.00,439.4 1097.90,440.5 1098.80,439.9 1099.40,416.0 1099.70,412.5 1100.90,430.6 1101.20,441.2 1101.50,433.6 1101.80,428.2 1102.10,422.1 1102.40,428.1 1102.70,425.2 1103.00,427.5 1103.60,440.5 1104.80,435.4 1105.10,415.9 1105.40,439.6 1106.00,413.8 1107.50,443.3 1107.80,441.4 1108.70,422.6 1109.30,433.3 1109.60,427.5 1109.90,425.9 1111.40,429.2 1112.30,421.1 1112.60,420.6 1112.90,442.8 1114.10,431.2 1115.00,432.8 1115.60,438.4 1115.90,422.2 1117.10,426.5 1118.60,429.6 1120.10,425.0 1120.70,443.1 1121.60,422.6 1121.90,435.7 1122.80,424.4 1123.10,442.3 1124.00,441.6 1124.30,426.2 1124.60,433.6 1124.90,409.7 1125.50,436.0 1125.80,426.6 1126.10,426.0 1128.20,416.0 1128.50,431.5 1128.80,422.1 1129.70,440.1 1130.90,431.0 1131.50,438.7 1132.10,422.1 1133.30,426.3 1134.50,421.6 1134.80,430.9 1135.40,427.1 1135.70,435.5 1136.30,421.2 1137.50,432.7 1137.80,428.7 1138.10,435.5 1140.20,437.1 1140.50,443.3 1140.80,424.1 1141.10,431.0 1141.40,416.3 1141.70,443.1 1142.00,441.5 1142.90,429.3 1144.70,418.3 1145.00,427.4 1145.90,428.1 1146.80,425.5 1147.10,442.1 1148.30,429.2 1149.20,421.4 1149.80,428.2 1150.40,442.9 1150.70,412.3 1152.20,434.0 1154.60,408.6 1155.20,441.3 1156.70,424.5 1157.30,430.5 1157.60,440.4 1158.80,409.7 1159.70,425.2 1160.00,428.8 1160.90,427.5 1162.10,437.0 1162.40,440.0 1162.70,424.3 1162.90,60.0 1163.90,60.0 1164.20,427.0 1165.40,420.1 1165.70,421.8 1166.60,436.7 1168.10,427.0 1168.70,439.6 1169.30,427.4 1169.60,421.7 1169.90,443.2 1170.50,429.2 1170.80,439.3 1171.40,422.1 1171.70,411.7 1172.00,428.3 1172.60,443.3 1172.90,426.6 1173.50,435.4 1173.80,422.2 1174.20,432.3 1174.40,432.5 1175.30,426.6 1176.20,431.2 1176.50,441.5 1176.80,440.5 1177.10,434.4 1178.30,415.5 1180.10,431.7 1180.70,423.5 1181.00,435.4 1181.90,437.9 1182.80,441.9 1183.10,412.6 1183.40,442.1 1183.70,424.0 1185.80,414.8 1186.10,435.7 1187.30,435.2 1187.60,431.4 1187.90,414.5 1189.10,429.6 1189.40,430.4 1190.00,440.7 1190.30,440.6 1190.60,427.6 1191.20,413.9 1191.50,438.9 1192.40,435.4 1192.70,428.8 1193.30,443.1 1195.10,411.2 1195.40,442.7 1195.70,437.3 1196.60,429.8 1197.20,424.5 1197.50,420.6 1198.40,437.5 1199.30,411.1 1200.50,431.1 1201.70,427.2 1202.60,433.9 1203.20,425.8 1204.10,434.7 1205.00,433.6 1205.60,401.4 1205.90,424.5 1207.10,423.7 1207.40,433.0 1207.70,431.0 1208.00,427.4 1208.30,442.4 1208.90,431.9 1209.50,438.8 1209.80,415.1 1210.10,431.2 1210.40,427.1 1210.70,420.1 1211.30,430.7 1212.20,407.5 1214.30,424.9 1214.60,426.2 1216.10,428.8 1217.30,414.9 1217.60,426.1 1218.20,424.0 1218.50,425.3 1219.10,441.2 1220.60,428.2 1221.50,442.9 1221.80,441.7 1222.40,421.2 1222.70,420.7 1223.00,425.2 1223.30,432.9 1224.20,431.1 1224.50,436.4 1225.70,422.9 1226.00,428.6 1226.30,424.3 1227.20,426.2 1228.10,443.4 1228.70,431.0 1229.30,430.6 1229.90,415.9 1230.20,434.4 1231.70,414.4 1232.00,426.8 1235.00,402.7 1235.60,434.2 1236.20,438.7 1236.80,435.1 1237.10,435.4 1237.40,416.7 1237.70,431.6 1238.00,425.9 1238.30,428.1 1239.20,434.7 1239.80,434.3 1240.40,408.1 1241.00,434.6 1241.90,422.5 1242.20,419.2 1242.80,418.4 1243.40,413.9 1244.30,428.6 1244.90,415.8 1246.70,406.4 1247.90,422.2 1248.50,438.4 1248.80,442.8 1249.70,423.7 1250.60,432.9 1251.50,421.5 1251.80,409.2 1252.10,421.3 1252.70,429.3 1253.30,424.1 1253.60,428.0 1253.90,430.1 1254.50,439.5 1254.80,418.7 1255.70,430.9 1256.60,415.2 1258.70,412.6 1259.90,442.2 1260.20,421.3 1261.40,441.3 1262.60,427.8 1263.50,426.0 1264.10,440.3 1264.40,437.2 1265.00,424.3 1265.30,438.3 1265.90,424.6 1267.70,441.9 1268.30,437.1 1268.60,422.7 1268.90,438.2 1269.80,428.1 1270.10,418.1 1271.60,427.1 1272.50,433.6 1272.80,420.4 1273.10,432.7 1274.30,425.4 1275.50,407.9 1275.80,432.3 1276.10,438.9 1277.00,438.8 1277.30,408.7 1277.60,429.6 1278.80,434.5 1279.10,421.6 1279.80,310.1 1280.60,426.8 1280.90,421.1 1281.20,414.9 1281.50,428.8 1281.80,432.7 1282.70,428.6 1283.00,434.4 1284.50,429.5 1285.70,443.1 1286.00,418.6 1286.30,418.7 1288.10,426.5 1288.70,433.9 1289.30,428.3 1290.20,415.0 1291.70,426.6 1292.30,435.6 1292.60,426.0 1292.90,426.0 1293.20,414.3 1294.70,423.5 1295.00,426.3 1296.20,411.5 1296.80,435.5 1297.10,427.1 1300.40,383.6 1301.00,443.3 1301.30,410.1 1301.60,436.6 1302.10,60.0 1303.10,60.0 1303.40,442.7 1304.00,440.9 1304.30,358.3 1305.20,438.1 1305.80,401.5 1306.10,402.4 1306.70,399.4 1307.30,401.5 1307.60,404.1 1307.90,423.7 1308.00,397.1 1308.20,429.1 1309.10,433.0 1309.70,383.0 1310.30,423.9 1310.60,388.4 1311.50,428.3 1312.40,360.9 1312.70,432.6 1313.30,424.9 1314.50,437.8 1314.80,434.3 1315.10,433.6 1315.40,375.4 1316.00,392.5 1316.30,401.8 1318.10,389.0 1318.40,360.9 1318.70,433.3 1319.90,375.3 1320.50,430.8 1321.10,407.1 1322.00,421.3 1323.50,399.4 1323.80,443.0 1324.40,418.4 1325.30,438.7 1325.90,404.3 1326.80,436.0 1327.40,411.9 1327.70,417.3 1328.60,375.1 1329.20,395.8 1329.50,431.0 1329.80,407.4 1330.40,443.0 1331.70,382.0 1332.20,373.7 1332.50,359.1 1334.00,443.2 1334.60,424.1 1334.90,441.1 1335.20,383.6 1336.10,390.9 1337.00,441.9 1337.60,424.5 1337.90,422.4 1338.20,381.8 1339.70,421.7 1340.00,382.2 1340.30,433.8 1341.50,389.7 1341.80,433.5 1342.40,358.2 1343.90,429.7 1344.20,367.2 1344.80,431.3 1345.10,400.2 1345.70,433.4 1346.60,397.1 1346.90,400.5 1347.20,427.4 1348.40,350.6 1349.30,376.8 1349.60,365.8 1350.20,353.5 1350.80,427.6 1351.10,417.4 1351.40,432.7 1352.00,413.7 1352.60,443.2 1352.90,393.9 1354.00,356.9 1354.40,366.4 1355.30,394.0 1356.50,429.7 1356.80,413.0 1357.40,370.6 1358.00,435.3 1358.30,383.2 1358.60,371.4 1358.90,401.6 1359.50,441.6 1360.10,379.7 1360.70,425.1 1361.00,420.5 1361.30,428.2 1361.60,355.6 1361.90,440.4 1363.70,420.9 1364.00,427.8 1364.60,434.2 1365.20,413.4 1365.50,427.8 1366.10,427.6 1366.40,403.0 1366.70,436.1 1367.30,442.0 1368.20,377.4 1368.80,426.0 1369.10,391.3 1369.40,387.6 1370.50,382.0 1371.80,377.2 1372.70,443.3 1373.00,426.0 1373.30,429.9 1373.60,372.2 1373.90,438.3 1374.80,374.9 1375.40,436.2 1375.70,421.8 1376.60,434.3 1377.20,375.9 1377.50,427.1 1378.40,382.2 1379.60,442.5 1380.20,431.6 1380.20,407.2 1380.80,370.5 1381.10,403.0 1381.70,377.1 1382.60,383.6 1383.20,416.7 1383.50,414.7 1384.40,439.6 1384.70,430.6 1385.60,381.2 1385.90,382.6 1386.50,432.2 1387.10,379.1 1387.70,430.2 1388.30,420.0 1389.50,419.6 1390.40,431.6 1390.70,404.0 1391.00,431.3 1391.30,439.3 1391.60,442.1 1392.50,416.0 1392.80,402.1 1393.10,430.5 1393.70,409.7 1394.30,420.9 1396.10,421.1 1396.70,387.4 1397.00,439.0 1397.30,437.2 1397.60,405.1 1397.90,439.8 1398.20,431.3 1398.50,418.6 1398.80,428.3 1400.60,397.0 1401.20,439.5 1401.50,403.0 1402.10,418.5 1402.40,392.4 1402.70,441.3 1403.00,400.9 1403.90,352.5 1404.20,437.6 1405.10,442.4 1407.20,394.1 1408.70,211.5 1409.30,380.3 1409.60,426.0 1410.50,426.5 1410.80,411.2 1411.40,423.6 1413.20,426.1 1414.10,390.2 1414.70,360.5 1415.90,334.2 1418.30,425.6 1418.60,367.2 1418.90,366.7 1419.20,351.2 1421.00,384.8 1421.20,130.5 1421.60,332.4 1422.20,130.5 1422.80,431.7 1423.10,443.3 1424.30,428.4 1424.60,384.9 1425.20,438.2 1425.50,350.4 1426.00,218.5 1426.70,368.9 1427.90,441.7 1428.80,434.0 1429.10,406.5 1429.40,422.1 1430.60,394.2 1431.20,428.8 1431.50,423.2 1431.70,60.0 1431.80,317.3 1432.40,342.5 1432.70,60.0 1433.90,425.3 1434.20,364.1 1434.50,427.5 1435.70,443.3 1436.00,432.3 1436.90,433.8 1437.20,362.7 1437.50,417.4 1438.40,426.4 1439.30,346.9 1439.60,385.5 1439.90,437.9 1441.40,387.2 1441.70,376.1 1442.00,434.3 1442.30,411.5 1443.80,414.2 1444.10,441.7 1444.70,434.2 1445.00,372.1 1445.30,378.4 1445.60,439.6 1445.90,430.1 1446.20,424.9 1446.50,424.5 1447.40,354.6 1448.00,435.2 1449.50,427.0 1450.40,438.8 1451.30,428.8 1452.50,371.4 1452.80,376.2 1453.40,405.9 1454.00,420.0 1454.30,440.6 1455.20,437.7 1455.80,352.3 1456.10,371.6 1457.60,364.0 1458.50,372.9 1459.10,370.7 1459.40,432.0 1459.70,437.4 1460.00,442.6 1460.20,382.0 1460.60,372.3 1462.10,430.1 1462.70,438.0 1463.00,430.0 1463.60,386.3 1465.40,416.2 1465.70,426.0 1467.20,352.4 1467.50,366.5 1467.90,98.3 1468.90,98.3 1469.00,433.8 1471.40,399.6 1472.30,360.7 1472.90,392.5 1473.50,361.7 1474.10,431.0 1475.60,359.9 1476.30,171.2 1477.10,370.1 1477.30,171.2 1477.70,430.7 1479.80,443.2 1481.30,436.6 1482.20,394.6 1483.10,384.4 1483.40,420.6 1483.70,413.0 1484.30,428.8 1484.60,378.8 1485.80,392.8 1486.10,432.3 1486.70,442.1 1487.30,384.9 1487.90,390.5 1488.20,410.4 1488.50,424.7 1488.80,373.6 1490.00,417.0 1491.80,422.4 1492.10,418.8 1492.40,440.0 1492.40,235.1 1492.70,431.7 1493.90,364.5 1494.80,442.3 1495.70,406.8 1496.60,409.6 1496.90,439.8 1497.20,395.5 1498.70,323.7 1499.30,366.1 1499.90,363.6 1500.50,418.4 1500.80,373.3 1503.20,382.7 1503.80,367.4 1505.60,354.1 1505.90,407.5 1507.40,439.5 1508.00,441.6 1508.60,404.1 1509.20,430.1 1509.50,386.4 1510.00,356.9 1511.00,402.3 1511.30,392.0 1511.90,354.6 1512.20,422.9 1513.10,398.3 1513.40,359.4 1513.40,217.0 1514.30,369.2 1514.90,430.3 1515.20,423.0 1515.50,402.0 1516.70,394.3 1517.60,385.8 1518.20,431.5 1518.50,412.5 1518.80,426.8 1519.10,426.3 1519.40,424.0 1519.70,435.4 1520.60,430.9 1520.90,435.2 1521.20,398.4 1521.50,426.4 1522.40,352.5 1523.00,426.3 1524.20,436.6 1525.10,434.9 1525.40,391.7 1526.00,443.4 1526.90,389.2 1527.80,380.3 1529.00,425.6 1530.50,423.3 1531.10,433.1 1531.40,426.1 1532.30,394.4 1532.90,433.9 1533.20,443.3 1533.80,427.8 1534.10,409.5 1534.40,411.1 1534.70,399.0 1535.90,422.3 1536.20,380.1 1536.70,397.1 1536.80,442.9 1537.40,429.4 1537.70,420.8 1538.00,443.3 1538.30,434.9 1539.20,386.0 1541.00,388.0 1541.30,430.3 1541.60,405.1 1541.90,436.8 1542.20,427.2 1542.80,390.6 1543.10,407.9 1543.40,430.8 1544.30,373.5 1545.20,424.2 1545.50,440.3 1546.70,440.3 1547.00,384.8 1548.20,401.8 1548.50,388.2 1549.10,389.0 1549.70,380.5 1550.00,431.9 1551.50,438.0 1552.40,428.2 1553.00,435.6 1553.30,376.8 1553.60,412.3 1553.90,403.5 1554.50,424.9 1554.80,421.7 1556.30,403.5 1557.80,384.8 1560.50,408.5 1561.10,408.0 1561.40,434.8 1561.70,438.8 1562.00,438.7 1562.30,435.8 1562.90,370.6 1564.10,431.9 1564.70,393.8 1565.00,380.5 1565.60,370.0 1566.20,437.9 1566.50,439.7 1567.10,377.3 1567.40,408.2 1568.90,406.6 1569.50,327.6 1569.80,440.0 1570.10,378.2 1571.00,435.4 1571.30,434.7 1572.80,389.8 1573.10,413.9 1573.70,381.2 1574.00,380.1 1576.10,387.6 1577.30,395.2 1577.60,413.6 1577.90,436.3 1578.50,411.7 1579.40,439.7 1580.00,392.9 1580.30,421.9 1580.90,379.4 1582.40,377.8 1582.70,414.5 1583.90,358.9 1584.80,350.4 1585.10,394.5 1585.40,419.5 1586.00,387.8 1586.60,432.7 1586.90,394.1 1587.50,372.9 1587.80,435.9 1588.40,438.2 1588.70,430.9 1589.00,442.6 1589.30,443.4 1590.00,382.0 1590.20,374.6 1590.50,443.1 1591.40,354.4 1592.30,335.7 1593.20,369.9 1594.70,369.3 1595.60,341.6 1595.90,413.0 1596.30,145.1 1597.30,145.1 1597.40,337.3 1598.90,439.7 1599.20,423.3 1599.50,368.4 1600.10,344.7 1600.40,436.3 1600.50,124.4 1601.00,434.2 1601.50,124.4 1601.90,351.2 1602.20,382.9 1602.80,421.6 1603.10,361.0 1603.70,427.6 1605.80,323.5 1606.00,256.2 1606.10,429.1 1606.70,415.4 1607.30,417.3 1608.20,353.5 1608.50,408.0 1610.60,332.2 1610.90,338.1 1611.20,402.4 1611.50,435.7 1611.80,372.2 1613.30,356.6 1614.80,429.4 1615.10,391.4 1615.70,411.9 1616.30,443.2 1616.90,376.9 1617.80,334.7 1619.90,410.0 1620.20,344.8 1620.50,440.4 1620.80,438.9 1621.50,227.6 1623.20,362.3 1623.80,366.2 1624.40,433.5 1624.90,69.6 1625.60,378.1 1625.90,437.4 1625.90,69.6 1626.50,375.5 1627.10,361.5 1627.70,428.7 1628.00,355.7 1628.30,182.8 1629.30,182.8 1629.80,341.3 1630.10,429.9 1630.70,443.3 1631.90,367.9 1632.50,386.9 1632.80,359.6 1633.10,443.0 1633.40,442.4 1633.70,410.9 1634.00,323.9 1634.90,433.8 1635.20,440.8 1636.10,329.6 1636.70,384.1 1637.00,435.3 1637.60,435.5 1637.90,388.8 1638.80,443.4 1639.10,397.8 1639.70,429.1 1640.60,436.4 1640.90,441.7 1641.80,443.2 1642.10,366.8 1642.40,442.4 1643.00,356.0 1643.60,435.9 1643.90,389.8 1645.10,366.0 1645.40,408.4 1646.30,418.7 1646.90,391.6 1647.20,428.8 1648.10,373.5 1649.00,436.3 1649.90,388.2 1650.50,434.4 1651.40,399.2 1652.90,405.2 1653.20,409.8 1653.50,442.8 1653.80,437.9 1654.10,381.9 1654.40,415.5 1654.70,422.9 1655.00,412.7 1655.30,422.4 1656.50,443.3 1657.40,381.5 1657.70,434.8 1658.30,426.0 1658.60,342.3 1659.20,429.1 1659.50,413.5 1659.80,392.3 1660.10,428.9 1660.30,291.5 1660.40,364.9 1660.70,435.0 1661.30,432.6 1662.20,428.6 1662.50,421.7 1663.40,431.8 1663.70,437.8 1664.00,373.1 1664.60,443.3 1664.90,410.1 1665.50,390.9 1666.10,410.6 1666.40,376.1 1666.70,370.3 1667.20,331.7 1668.20,405.3 1668.50,412.0 1668.80,330.9 1669.70,433.2 1670.00,443.2 1670.60,419.5 1671.80,377.0 1672.10,370.8 1673.30,439.9 1673.60,436.9 1673.90,412.7 1674.50,356.9 1675.40,377.2 1675.70,375.6 1676.00,355.2 1676.30,430.6 1676.60,434.2 1676.90,354.3 1677.20,425.9 1678.10,434.4 1678.40,347.4 1678.70,356.0 1679.00,335.0 1679.90,397.3 1680.20,222.5 1680.80,440.7 1681.10,326.6 1681.70,328.9 1682.30,425.5 1682.90,428.4 1683.80,413.3 1684.40,410.6 1685.00,317.6 1685.60,406.4 1685.90,425.4 1686.20,441.7 1686.80,440.2 1687.10,441.7 1687.40,335.6 1687.70,396.1 1688.90,256.2 1690.10,399.7 1691.00,430.1 1691.60,434.3 1692.20,353.2 1692.30,118.9 1692.80,432.9 1693.30,118.9 1693.70,417.1 1694.30,323.2 1694.90,344.0 1695.10,306.6 1695.20,397.6 1696.10,368.5 1698.50,424.3 1699.10,396.6 1699.40,421.8 1699.70,433.6 1700.00,371.1 1700.60,432.4 1700.90,398.3 1701.50,438.0 1701.80,406.1 1702.10,441.4 1702.40,406.2 1702.70,421.9 1703.00,378.8 1703.60,433.0 1703.90,355.7 1704.50,403.7 1704.80,389.9 1705.40,384.1 1705.70,421.5 1706.90,434.4 1707.20,367.4 1708.10,442.9 1709.00,350.4 1709.30,435.9 1709.90,382.7 1710.20,431.2 1710.50,358.8 1712.30,384.2 1712.60,426.9 1712.90,443.0 1713.20,428.4 1713.40,226.1 1713.80,434.7 1714.40,437.4 1715.00,436.2 1715.90,366.0 1716.20,429.6 1717.10,441.4 1718.30,399.0 1719.80,426.6 1720.10,358.8 1720.70,281.4 1721.30,386.2 1721.60,431.1 1723.10,427.0 1723.40,376.6 1724.30,429.0 1725.50,369.4 1725.50,331.7 1727.30,343.1 1727.60,345.0 1727.90,422.5 1728.20,430.2 1728.50,415.2 1728.80,413.3 1729.40,429.9 1730.00,350.1 1730.00,195.4 1730.30,430.2 1730.60,351.6 1731.00,195.4 1732.10,414.6 1732.40,371.0 1732.70,440.5 1733.30,429.9 1733.60,420.2 1734.60,281.4 1734.80,392.2 1735.10,443.3 1735.40,416.5 1735.70,442.1 1736.90,437.2 1737.20,440.5 1737.50,388.7 1738.40,384.1 1739.00,427.1 1739.30,424.0 1739.60,419.4 1740.20,437.3 1741.10,377.9 1741.20,331.7 1741.70,426.8 1742.60,413.9 1744.10,374.4 1744.40,380.0 1744.70,385.5 1745.00,418.7 1745.60,392.0 1745.90,399.6 1748.60,395.2 1748.90,394.3 1751.60,424.0 1752.20,397.7 1753.10,435.9 1753.40,442.7 1753.70,403.4 1754.00,427.2 1754.30,427.2 1755.20,438.6 1755.50,430.3 1755.60,356.9 1756.70,437.7 1757.00,426.4 1757.30,372.9 1758.40,382.0 1758.80,432.4 1759.40,423.6 1759.70,401.9 1760.00,386.8 1760.30,381.8 1760.60,382.2 1761.20,436.1 1762.10,421.1 1762.40,382.2 1762.70,434.7 1763.30,391.6 1763.60,432.0 1763.90,402.9 1764.50,338.2 1764.80,386.5 1765.10,387.0 1765.40,429.1 1765.70,441.1 1766.60,346.9 1766.90,426.5 1768.70,404.8 1769.90,439.4 1770.20,428.2 1770.50,412.8 1770.80,437.8 1771.10,394.4 1771.40,382.9 1772.00,356.8 1772.30,440.5 1773.20,422.6 1773.80,417.0 1774.40,376.8 1774.70,435.1 1775.30,442.7 1775.60,433.6 1776.80,424.7 1777.40,426.5 1777.70,431.6 1778.00,436.9 1778.60,372.3 1779.20,443.4 1781.30,348.0 1783.10,360.6 1783.40,397.5 1784.00,438.8 1784.60,440.5 1785.50,391.2 1786.70,434.0 1787.60,206.9 1787.90,440.6 1788.80,436.0 1789.10,409.2 1789.40,364.7 1790.30,405.7 1790.90,398.7 1791.80,442.6 1792.40,430.3 1792.90,382.0 1793.90,410.9 1794.20,319.0 1794.50,426.5 1796.00,317.9 1797.00,77.6 1798.00,77.6 1798.10,440.1 1798.70,362.3 1799.00,324.2 1799.30,438.5 1799.60,420.4 1801.40,363.5 1802.50,356.9 1803.50,348.2 1803.80,388.0 1804.70,381.9 1805.60,420.6 1805.90,390.4 1806.80,355.9 1807.00,155.6 1807.10,414.5 1808.00,155.6 1808.30,430.2 1808.60,425.6 1808.90,333.1 1809.80,363.6 1810.40,364.0 1810.70,368.8 1811.30,436.9 1812.20,431.8 1812.50,435.6 1813.10,437.4 1815.20,352.1 1815.50,427.7 1815.80,435.7 1816.40,351.9 1817.60,404.4 1817.80,231.1 1818.50,415.9 1819.10,406.7 1819.40,426.9 1819.70,354.4 1820.00,350.4 1820.60,353.8 1821.40,187.3 1822.40,187.3 1823.30,424.6 1823.50,306.6 1824.20,431.4 1824.50,398.5 1825.70,426.2 1828.10,387.8 1828.40,365.5 1828.70,438.2 1829.00,358.3 1829.30,390.3 1829.60,369.4 1829.90,398.4 1830.20,428.9 1831.10,360.0 1831.70,436.1 1832.30,440.0 1832.60,381.0 1832.80,197.4 1832.90,355.8 1833.80,425.8 1833.80,197.4 1834.10,429.1" fill="none" stroke="#F5E12A" stroke-width="2" stroke-linejoin="round"/></g>
<circle cx="1179" cy="402.3" r="128.3" fill="#fff" stroke="#000" stroke-width="2.6"/>
<line x1="1059.00" y1="458.00" x2="1298.00" y2="458.00" stroke="#000" stroke-width="2" />
<polyline points="1058.5,458.0 1058.5,413.0 1060.2,415.7 1062.0,413.0 1065.0,446.0 1066.7,444.0 1068.3,449.2 1070.0,450.0 1073.0,400.0 1076.0,341.0 1079.0,360.0 1081.0,387.3 1083.0,416.0 1084.7,418.1 1086.3,421.1 1088.0,424.0 1089.7,423.4 1091.3,427.7 1093.0,430.0 1094.7,430.9 1096.3,438.3 1098.0,436.0 1100.0,433.3 1102.0,430.0 1104.0,423.5 1106.0,417.6 1108.0,412.0 1110.0,401.1 1112.0,392.0 1113.7,393.3 1115.3,396.8 1117.0,400.0 1119.0,406.6 1121.0,412.0 1122.7,404.0 1124.3,397.9 1126.0,389.0 1128.0,396.2 1130.0,404.0 1133.0,430.0 1136.0,448.0 1138.0,451.0 1140.0,454.0 1142.0,452.7 1144.0,448.0 1146.0,444.0 1147.6,443.9 1149.2,445.0 1150.8,446.5 1152.4,448.9 1154.0,447.0 1156.0,437.6 1158.0,428.7 1160.0,420.0 1162.0,398.3 1164.0,374.0 1165.7,381.5 1167.3,391.0 1169.0,400.0 1172.0,416.0 1174.0,435.1 1176.0,452.0 1178.0,447.8 1180.0,442.0 1181.6,443.5 1183.2,445.7 1184.8,442.5 1186.4,448.9 1188.0,449.0 1189.7,446.3 1191.3,443.8 1193.0,444.9 1194.7,443.9 1196.3,440.9 1198.0,440.0 1200.0,414.0 1202.0,413.9 1204.0,416.7 1206.0,418.0 1207.7,420.3 1209.3,424.5 1211.0,426.0 1212.7,427.6 1214.3,431.1 1216.0,432.0 1217.6,432.9 1219.2,433.2 1220.8,436.4 1222.4,437.6 1224.0,438.0 1226.0,434.4 1228.0,430.3 1230.0,428.0 1231.6,426.7 1233.2,421.6 1234.8,424.1 1236.4,422.2 1238.0,420.0 1239.6,410.7 1241.2,405.7 1242.8,397.1 1244.4,392.2 1246.0,384.0 1248.0,382.7 1250.0,385.5 1252.0,388.0 1254.0,370.3 1256.0,352.2 1258.0,332.0 1260.0,343.2 1262.0,360.0 1264.0,379.4 1266.0,400.0 1268.0,416.4 1270.0,432.0 1272.0,422.2 1274.0,414.0 1276.0,416.7 1278.0,413.8 1280.0,416.0 1281.6,416.1 1283.2,413.8 1284.8,416.6 1286.4,414.4 1288.0,414.0 1290.0,422.5 1292.0,432.0 1293.7,427.4 1295.3,429.5 1297.0,425.0" fill="none" stroke="#4333D6" stroke-width="6.8" stroke-linejoin="round" />
<polyline points="1058.5,458.0 1058.5,420.0 1060.2,422.3 1062.0,425.3 1065.0,445.9 1066.7,447.4 1068.3,449.2 1070.0,451.4 1073.0,410.6 1076.0,356.3 1079.0,372.2 1081.0,397.5 1083.0,424.2 1084.7,428.6 1086.3,429.8 1088.0,430.6 1089.7,433.6 1091.3,434.4 1093.0,436.5 1094.7,438.3 1096.3,439.8 1098.0,442.4 1100.0,438.5 1102.0,434.7 1104.0,432.1 1106.0,429.1 1108.0,423.7 1110.0,414.8 1112.0,404.2 1113.7,407.2 1115.3,408.6 1117.0,412.0 1119.0,416.0 1121.0,419.8 1122.7,410.8 1124.3,403.0 1126.0,394.1 1128.0,402.4 1130.0,412.2 1133.0,431.1 1136.0,452.9 1138.0,451.6 1140.0,448.4 1142.0,449.2 1144.0,447.1 1146.0,447.0 1147.6,447.6 1149.2,446.6 1150.8,448.6 1152.4,449.2 1154.0,450.8 1156.0,443.1 1158.0,438.6 1160.0,431.1 1162.0,411.7 1164.0,391.3 1165.7,400.8 1167.3,407.8 1169.0,416.9 1172.0,432.7 1174.0,444.2 1176.0,455.7 1178.0,454.0 1180.0,453.9 1181.6,454.7 1183.2,452.9 1184.8,453.0 1186.4,452.4 1188.0,452.5 1189.7,450.5 1191.3,449.5 1193.0,448.7 1194.7,447.4 1196.3,445.5 1198.0,445.7 1200.0,419.0 1202.0,421.3 1204.0,423.5 1206.0,427.5 1207.7,428.3 1209.3,429.7 1211.0,431.5 1212.7,434.6 1214.3,435.3 1216.0,437.0 1217.6,438.7 1219.2,437.5 1220.8,438.4 1222.4,438.9 1224.0,438.8 1226.0,439.4 1228.0,440.8 1230.0,439.6 1231.6,437.4 1233.2,435.3 1234.8,435.0 1236.4,433.3 1238.0,432.2 1239.6,425.2 1241.2,418.8 1242.8,412.2 1244.4,406.0 1246.0,400.1 1248.0,399.0 1250.0,398.7 1252.0,399.5 1254.0,373.7 1256.0,347.4 1258.0,325.4 1260.0,342.3 1262.0,359.2 1264.0,383.2 1266.0,405.0 1268.0,420.0 1270.0,435.5 1272.0,433.2 1274.0,432.0 1276.0,430.9 1278.0,427.7 1280.0,426.3 1281.6,427.5 1283.2,425.0 1284.8,426.2 1286.4,425.8 1288.0,425.2 1290.0,432.2 1292.0,440.0 1293.7,438.7 1295.3,436.2 1297.0,435.0" fill="none" stroke="#F5E12A" stroke-width="4" stroke-linejoin="round" />
<line x1="928.70" y1="509.50" x2="928.70" y2="917.40" stroke="#262626" stroke-width="2" />
<line x1="927.70" y1="916.40" x2="1835.50" y2="916.40" stroke="#262626" stroke-width="2" />
<line x1="928.70" y1="916.40" x2="928.70" y2="907.40" stroke="#262626" stroke-width="2" />
<text x="928.70" y="970.00" font-size="41.5" text-anchor="middle" fill="#262626" font-weight="normal" >0</text>
<line x1="973.99" y1="916.40" x2="973.99" y2="911.40" stroke="#262626" stroke-width="2" />
<line x1="1019.28" y1="916.40" x2="1019.28" y2="911.40" stroke="#262626" stroke-width="2" />
<line x1="1064.57" y1="916.40" x2="1064.57" y2="911.40" stroke="#262626" stroke-width="2" />
<line x1="1109.86" y1="916.40" x2="1109.86" y2="907.40" stroke="#262626" stroke-width="2" />
<text x="1109.86" y="970.00" font-size="41.5" text-anchor="middle" fill="#262626" font-weight="normal" >0.2</text>
<line x1="1155.15" y1="916.40" x2="1155.15" y2="911.40" stroke="#262626" stroke-width="2" />
<line x1="1200.44" y1="916.40" x2="1200.44" y2="911.40" stroke="#262626" stroke-width="2" />
<line x1="1245.73" y1="916.40" x2="1245.73" y2="911.40" stroke="#262626" stroke-width="2" />
<line x1="1291.02" y1="916.40" x2="1291.02" y2="907.40" stroke="#262626" stroke-width="2" />
<text x="1291.02" y="970.00" font-size="41.5" text-anchor="middle" fill="#262626" font-weight="normal" >0.4</text>
<line x1="1336.31" y1="916.40" x2="1336.31" y2="911.40" stroke="#262626" stroke-width="2" />
<line x1="1381.60" y1="916.40" x2="1381.60" y2="911.40" stroke="#262626" stroke-width="2" />
<line x1="1426.89" y1="916.40" x2="1426.89" y2="911.40" stroke="#262626" stroke-width="2" />
<line x1="1472.18" y1="916.40" x2="1472.18" y2="907.40" stroke="#262626" stroke-width="2" />
<text x="1472.18" y="970.00" font-size="41.5" text-anchor="middle" fill="#262626" font-weight="normal" >0.6</text>
<line x1="1517.47" y1="916.40" x2="1517.47" y2="911.40" stroke="#262626" stroke-width="2" />
<line x1="1562.76" y1="916.40" x2="1562.76" y2="911.40" stroke="#262626" stroke-width="2" />
<line x1="1608.05" y1="916.40" x2="1608.05" y2="911.40" stroke="#262626" stroke-width="2" />
<line x1="1653.34" y1="916.40" x2="1653.34" y2="907.40" stroke="#262626" stroke-width="2" />
<text x="1653.34" y="970.00" font-size="41.5" text-anchor="middle" fill="#262626" font-weight="normal" >0.8</text>
<line x1="1698.63" y1="916.40" x2="1698.63" y2="911.40" stroke="#262626" stroke-width="2" />
<line x1="1743.92" y1="916.40" x2="1743.92" y2="911.40" stroke="#262626" stroke-width="2" />
<line x1="1789.21" y1="916.40" x2="1789.21" y2="911.40" stroke="#262626" stroke-width="2" />
<line x1="1834.50" y1="916.40" x2="1834.50" y2="907.40" stroke="#262626" stroke-width="2" />
<text x="1834.50" y="970.00" font-size="41.5" text-anchor="middle" fill="#262626" font-weight="normal" >1</text>
<line x1="928.70" y1="510.50" x2="933.70" y2="510.50" stroke="#262626" stroke-width="2" />
<line x1="928.70" y1="591.68" x2="933.70" y2="591.68" stroke="#262626" stroke-width="2" />
<line x1="928.70" y1="672.86" x2="933.70" y2="672.86" stroke="#262626" stroke-width="2" />
<line x1="928.70" y1="754.04" x2="933.70" y2="754.04" stroke="#262626" stroke-width="2" />
<line x1="928.70" y1="835.22" x2="933.70" y2="835.22" stroke="#262626" stroke-width="2" />
<line x1="928.70" y1="916.40" x2="933.70" y2="916.40" stroke="#262626" stroke-width="2" />
<text x="23.50" y="57.30" font-size="48" text-anchor="start" fill="#000" font-weight="bold" textLength="24" lengthAdjust="spacingAndGlyphs">a</text>
<text x="831.50" y="56.50" font-size="46.5" text-anchor="start" fill="#000" font-weight="bold" >b</text>
<text x="830.50" y="497.50" font-size="48" text-anchor="start" fill="#000" font-weight="bold" >c</text>
<g transform="translate(50.30,551.50) rotate(-90)"><text x="0.00" y="0.00" font-size="46" fill="#262626" textLength="62.5" lengthAdjust="spacingAndGlyphs">E/k</text><text x="66.60" y="-24.50" font-size="30" fill="#262626" >*</text><text x="65.30" y="21.30" font-size="37.5" fill="#262626" >B</text><text x="103.00" y="0.00" font-size="46" fill="#262626" >T</text></g>
<g transform="translate(874.60,343.50) rotate(-90)"><text x="0.00" y="0.00" font-size="45.5" fill="#262626" textLength="127.7" lengthAdjust="spacingAndGlyphs">P (m s</text><text x="126.30" y="-19.50" font-size="35" fill="#262626" >-2</text><text x="157.00" y="0.00" font-size="45.5" fill="#262626" >)</text></g>
<g transform="translate(833.80,897.00) rotate(-90)"><text x="0.00" y="0.00" font-size="45.3" fill="#262626" textLength="355" lengthAdjust="spacingAndGlyphs">probability density</text></g>
<text x="850.70" y="613.30" font-size="41.5" text-anchor="start" fill="#262626" font-weight="normal" textLength="44.3" lengthAdjust="spacingAndGlyphs">10</text>
<text x="897.00" y="594.60" font-size="32.5" text-anchor="start" fill="#262626" font-weight="normal" >0</text>
<text x="931.00" y="49.30" font-size="43.5" text-anchor="start" fill="#262626" font-weight="normal" >×</text>
<text x="961.00" y="44.70" font-size="41.5" text-anchor="start" fill="#262626" font-weight="normal" textLength="44.3" lengthAdjust="spacingAndGlyphs">10</text>
<text x="1006.70" y="25.60" font-size="32.5" text-anchor="start" fill="#262626" font-weight="normal" >-6</text>
<text x="1727.00" y="1038.90" font-size="44.7" text-anchor="start" fill="#262626" font-weight="normal" >×</text>
<text x="1757.00" y="1033.20" font-size="41.5" text-anchor="start" fill="#262626" font-weight="normal" textLength="44.3" lengthAdjust="spacingAndGlyphs">10</text>
<text x="1802.50" y="1014.00" font-size="32.5" text-anchor="start" fill="#262626" font-weight="normal" >-5</text>
<text x="1295.50" y="1038.20" font-size="45.5" text-anchor="start" fill="#262626" font-weight="normal" textLength="128.5" lengthAdjust="spacingAndGlyphs">P (m s</text>
<text x="1420.5" y="1016.3" font-size="34" fill="#262626">-2</text>
<text x="1455.80" y="1038.20" font-size="45.5" text-anchor="start" fill="#262626" font-weight="normal" >)</text>
<text x="1297.5" y="523" font-size="45" fill="#000" stroke="#000" stroke-width="0.9" textLength="154" lengthAdjust="spacingAndGlyphs">t ( a. u.)</text>
<text x="266.50" y="116.20" font-size="37" text-anchor="start" fill="#000" font-weight="normal" >E</text>
<text x="289.90" y="133.50" font-size="29" text-anchor="start" fill="#000" font-weight="normal" >k</text>
<text x="266.50" y="175.50" font-size="37" text-anchor="start" fill="#000" font-weight="normal" >E</text>
<text x="289.90" y="193.00" font-size="29" text-anchor="start" fill="#000" font-weight="normal" >p</text>
<text x="266.50" y="237.90" font-size="37" text-anchor="start" fill="#000" font-weight="normal" >E</text>
<text x="289.90" y="253.90" font-size="29" text-anchor="start" fill="#000" font-weight="normal" >k</text>
<text x="306.50" y="237.90" font-size="37" text-anchor="start" fill="#000" font-weight="normal" >+</text>
<text x="338.00" y="237.90" font-size="37" text-anchor="start" fill="#000" font-weight="normal" >E</text>
<text x="361.40" y="254.70" font-size="29" text-anchor="start" fill="#000" font-weight="normal" >p</text>
<text x="266.00" y="296.50" font-size="37" text-anchor="start" fill="#000" font-weight="normal" >(9/2)N</text>
<text x="1665.00" y="568.40" font-size="37.5" text-anchor="start" fill="#000" font-weight="normal" textLength="76" lengthAdjust="spacingAndGlyphs">Data</text>
<text x="1665.00" y="617.40" font-size="37.5" text-anchor="start" fill="#000" font-weight="normal" >Fit</text>
<defs><clipPath id="cc"><rect x="926" y="505" width="912" height="411.4"/></clipPath></defs>
<g clip-path="url(#cc)">
<polyline points="928.6,572.0 930.6,549.7 932.6,551.7 934.6,554.8 936.6,558.5 938.6,562.6 940.6,565.5 942.6,570.2 944.6,574.0 946.6,577.9 948.6,580.2 950.6,582.8 952.6,585.9 954.6,588.9 956.6,592.3 958.6,594.6 960.6,598.4 962.6,602.3 964.6,604.1 966.6,606.2 968.6,608.2 970.6,612.8 972.6,614.2 974.6,615.9 976.6,619.8 978.6,622.4 980.6,626.2 982.6,626.2 984.6,629.3 986.6,632.0 988.6,633.0 990.6,634.4 992.6,638.4 994.6,637.8 996.6,640.2 998.6,644.2 1000.6,645.4 1002.6,646.9 1004.6,649.7 1006.6,649.0 1008.6,652.5 1010.6,653.3 1012.6,657.4 1014.6,657.8 1016.6,657.6 1018.6,659.0 1020.6,661.9 1022.6,663.1 1024.6,662.1 1026.6,663.4 1028.6,665.9 1030.6,667.5 1032.6,667.5 1034.6,669.4 1036.6,670.5 1038.6,675.7 1040.6,673.6 1042.6,675.9 1044.6,677.3 1046.6,678.9 1048.6,677.6 1050.6,683.5 1052.6,681.8 1054.6,682.7 1056.6,686.9 1058.6,685.2 1060.6,685.9 1062.6,686.7 1064.6,691.0 1066.6,690.1 1068.6,690.6 1070.6,693.4 1072.6,693.8 1074.6,695.1 1076.6,695.5 1078.6,695.3 1080.6,699.8 1082.6,697.7 1084.6,700.8 1086.6,698.1 1088.6,697.9 1090.6,702.5 1092.6,703.1 1094.6,703.7 1096.6,701.6 1098.6,703.4 1100.6,704.0 1102.6,706.2 1104.6,707.0 1106.6,706.8 1108.6,708.6 1110.6,712.3 1112.6,710.7 1114.6,709.9 1116.6,711.7 1118.6,714.7 1120.6,713.2 1122.6,713.3 1124.6,713.8 1126.6,717.1 1128.6,719.7 1130.6,709.0 1132.6,719.7 1134.6,719.4 1136.6,717.6 1138.6,720.3 1140.6,717.5 1142.6,720.7 1144.6,713.8 1146.6,724.1 1148.6,721.9 1150.6,728.4 1152.6,724.1 1154.6,723.3 1156.6,731.2 1158.6,726.3 1160.6,721.6 1162.6,724.8 1164.6,730.4 1166.6,732.5 1168.6,729.0 1170.6,725.4 1172.6,728.6 1174.6,733.6 1176.6,729.6 1178.6,730.4 1180.6,733.2 1182.6,736.7 1184.6,734.3 1186.6,738.3 1188.6,736.5 1190.6,735.8 1192.6,733.0 1194.6,732.5 1196.6,738.8 1198.6,740.4 1200.6,742.7 1202.6,740.9 1204.6,741.8 1206.6,740.4 1208.6,742.1 1210.6,743.6 1212.6,742.4 1214.6,750.5 1216.6,745.7 1218.6,744.5 1220.6,746.7 1222.6,745.1 1224.6,747.7 1226.6,748.1 1228.6,746.7 1230.6,749.5 1232.6,748.7 1234.6,743.9 1236.6,742.4 1238.6,743.9 1240.6,750.9 1242.6,750.9 1244.6,747.7 1246.6,749.1 1248.6,754.4 1250.6,749.8 1252.6,754.8 1254.6,755.7 1256.6,757.0 1258.6,750.5 1260.6,757.0 1262.6,757.9 1264.6,762.2 1266.6,750.9 1268.6,760.2 1270.6,752.8 1272.6,759.7 1274.6,755.2 1276.6,764.3 1278.6,757.0 1280.6,754.8 1282.6,762.2 1284.6,756.1 1286.6,761.2 1288.6,764.3 1290.6,762.2 1292.6,759.2 1294.6,766.0 1296.6,766.5 1298.6,773.5 1300.6,766.0 1302.6,761.2 1304.6,766.0 1306.6,774.3 1308.6,768.3 1310.6,775.0 1312.6,772.8 1314.6,769.5 1316.6,774.3 1318.6,774.3 1320.6,773.5 1322.6,777.3 1324.6,763.8 1326.6,768.3 1328.6,766.0 1330.6,774.3 1332.6,772.8 1334.6,774.3 1336.6,777.3 1338.6,781.4 1340.6,766.0 1342.6,785.1 1344.6,781.4 1346.6,787.1 1348.6,770.8 1350.6,778.9 1352.6,777.3 1354.6,784.2 1356.6,792.8 1358.6,788.2 1360.6,787.1 1362.6,787.1 1364.6,778.9 1366.6,778.9 1368.6,791.6 1370.6,791.6 1372.6,784.2 1374.6,792.8 1376.6,807.7 1378.6,787.1 1380.6,781.4 1382.6,798.0 1384.6,789.3 1386.6,788.2 1388.6,791.6 1390.6,794.0 1392.6,796.6 1394.6,786.1 1396.6,807.7 1398.6,794.0 1400.6,791.6 1402.6,807.7 1404.6,796.6 1406.6,794.0 1408.6,788.2 1410.6,809.6 1412.6,786.1 1414.6,802.5 1416.6,805.9 1418.6,785.1 1420.6,798.0 1422.6,791.6 1424.6,804.1 1426.6,830.3 1428.6,805.9 1430.6,798.0 1432.6,799.4 1434.6,809.6 1436.6,802.5 1438.6,800.9 1440.6,821.0 1442.6,807.7 1444.6,798.0 1446.6,804.1 1448.6,790.4 1450.6,821.0 1452.6,811.6 1454.6,821.0 1456.6,813.7 1458.6,802.5 1460.6,816.0 1462.6,811.6 1464.6,805.9 1466.6,800.9 1468.6,838.2 1470.6,809.6 1472.6,802.5 1474.6,813.7 1476.6,805.9 1478.6,798.0 1480.6,818.4 1482.6,802.5 1484.6,821.0 1486.6,816.0 1488.6,821.0 1490.6,804.1 1492.6,813.7 1494.6,809.6 1496.6,818.4 1498.6,826.9 1500.6,826.9 1502.6,811.6 1504.6,818.4 1506.6,813.7 1508.6,830.3 1510.6,818.4 1512.6,804.1 1514.6,823.9 1516.6,821.0 1518.6,811.6 1520.6,805.9 1522.6,834.0 1524.6,818.4 1526.6,823.9 1528.6,830.3 1530.6,823.9 1532.6,809.6 1534.6,816.0 1536.6,811.6 1538.6,816.0 1540.6,830.3 1542.6,809.6 1544.6,811.6 1546.6,834.0 1548.6,816.0 1550.6,830.3 1552.6,834.0 1554.6,813.7 1556.6,816.0 1558.6,830.3 1560.6,830.3 1562.6,842.9 1564.6,842.9 1566.6,823.9 1568.6,823.9 1570.6,848.3 1572.6,854.7 1574.6,854.7 1576.6,854.7 1578.6,821.0 1580.6,911.5 1582.6,838.2 1584.6,838.2 1586.6,816.0 1588.6,842.9 1590.6,842.9 1592.6,830.3 1594.6,842.9 1596.6,830.3 1598.6,848.3 1600.6,838.2 1602.6,838.2 1604.6,813.7 1606.6,830.3 1608.6,830.3 1610.6,848.3 1612.6,826.9 1614.6,848.3 1616.6,834.0 1618.6,842.9 1620.6,826.9 1622.6,816.0 1624.6,848.3 1626.6,834.0 1628.6,834.0 1630.6,842.9 1632.6,826.9 1634.6,826.9 1636.6,854.7 1638.6,838.2 1640.6,838.2 1642.6,830.3 1644.6,848.3 1646.6,862.6 1648.6,848.3 1650.6,887.1 1652.6,838.2 1654.6,838.2 1656.6,838.2 1658.6,826.9 1660.6,854.7 1662.6,823.9 1664.6,838.2 1666.6,821.0 1668.6,854.7 1670.6,830.3 1672.6,842.9 1674.6,848.3 1676.6,854.7 1678.6,848.3 1680.6,848.3 1682.6,830.3 1684.6,823.9 1686.6,823.9 1688.6,872.8 1690.6,830.3 1692.6,854.7 1694.6,848.3 1696.6,848.3 1698.6,848.3 1700.6,862.6 1702.6,848.3 1704.6,848.3 1706.6,848.3 1708.6,848.3 1710.6,854.7 1712.6,848.3 1714.6,834.0 1716.6,854.7 1718.6,830.3 1720.6,854.7 1722.6,842.9 1724.6,872.8 1726.6,838.2 1728.6,842.9 1730.6,887.1 1732.6,854.7 1734.6,854.7 1736.6,854.7 1738.6,862.6 1740.6,872.8 1742.6,887.1 1744.6,826.9 1746.6,854.7 1748.6,834.0 1750.6,848.3 1752.6,848.3 1754.6,838.2 1756.6,842.9 1758.6,854.7 1760.6,842.9 1762.6,854.7 1764.6,862.6 1766.6,830.3 1768.6,842.9 1770.6,838.2 1772.6,862.6 1774.6,838.2 1776.6,842.9 1778.6,848.3 1780.6,854.7 1782.6,854.7 1784.6,854.7 1786.6,872.8 1788.6,862.6 1790.6,872.8 1792.6,854.7 1794.6,838.2 1796.6,887.1 1798.6,854.7 1800.6,854.7 1802.6,854.7 1804.6,887.1 1806.6,848.3 1808.6,826.9 1810.6,862.6 1812.6,854.7 1814.6,887.1 1816.6,862.6 1818.6,854.7 1820.6,862.6 1822.6,887.1 1824.6,830.3 1826.6,887.1 1828.6,842.9 1830.6,848.3 1832.6,848.3 1834.6,872.8" fill="none" stroke="#4333D6" stroke-width="4.8" stroke-linejoin="round" />
<polyline points="930.0,697.0 934.3,558.5 938.5,553.5 940.5,554.8 942.5,556.4 944.5,559.3 946.5,562.4 948.5,566.1 950.5,568.7 952.5,572.2 954.5,576.0 956.5,579.5 958.5,583.1 960.5,587.0 962.5,591.7 964.5,595.0 966.5,599.0 968.5,602.3 970.5,605.3 972.5,608.0 974.5,611.7 976.5,614.3 978.5,617.9 980.5,621.4 982.5,623.9 984.5,628.3 986.5,630.5 988.5,633.0 990.5,635.5 992.5,637.9 994.5,639.7 996.5,640.6 998.5,644.3 1000.5,647.2 1002.5,647.2 1004.5,648.6 1006.5,650.2 1008.5,651.9 1010.5,653.3 1012.5,653.9 1014.5,656.6 1016.5,657.3 1018.5,658.5 1020.5,660.4 1022.5,663.2 1024.5,661.8 1026.5,666.4 1028.5,665.0 1030.5,666.1 1032.5,668.6 1034.5,669.0 1036.5,672.2 1038.5,674.3 1040.5,673.9 1042.5,675.3 1044.5,675.6 1046.5,677.2 1048.5,680.0 1050.5,681.2 1052.5,682.5 1054.5,681.0 1056.5,684.7 1058.5,688.3 1060.5,685.7 1062.5,685.0 1064.5,687.3 1066.5,690.2 1068.5,690.4 1070.5,693.3 1072.5,692.4 1074.5,697.5 1076.5,694.8 1078.5,695.6 1080.5,698.9 1082.5,698.2 1084.5,699.1 1086.5,702.1 1088.5,702.9 1090.5,701.7 1092.5,701.8 1094.5,703.2 1096.5,705.8 1098.5,706.2 1100.5,709.0 1102.5,706.4 1104.5,706.7 1106.5,708.6 1108.5,706.5 1110.5,705.3 1112.5,711.4 1114.5,716.8 1116.5,716.2 1118.5,715.5 1120.5,715.4 1122.5,718.1 1124.5,716.5 1126.5,717.5 1128.5,719.0 1130.5,724.7 1132.5,718.7 1134.5,726.1 1136.5,727.4 1138.5,725.9 1140.5,726.1 1142.5,727.8 1144.5,728.0 1146.5,727.2 1148.5,729.4 1150.5,728.2 1152.5,729.6 1154.5,728.4 1156.5,730.8 1158.5,731.7 1160.5,726.5 1162.5,738.0 1164.5,734.8 1166.5,738.0 1168.5,738.3 1170.5,742.1 1172.5,736.2 1174.5,741.5 1176.5,737.0 1178.5,746.7 1180.5,740.7 1182.5,739.0 1184.5,747.4 1186.5,740.9 1188.5,745.7 1190.5,753.2 1192.5,744.5 1194.5,756.1 1196.5,747.4 1198.5,745.4 1200.5,746.7 1202.5,752.4 1204.5,754.0 1206.5,750.9 1208.5,753.6 1210.5,755.7 1212.5,761.2 1214.5,750.9 1216.5,758.3 1218.5,762.7 1220.5,755.2 1222.5,755.7 1224.5,761.7 1226.5,757.9 1228.5,760.7 1230.5,760.2 1232.5,757.9 1234.5,760.2 1236.5,767.7 1238.5,762.7 1240.5,759.7 1242.5,764.3 1244.5,762.7 1246.5,777.3 1248.5,766.5 1250.5,773.5 1252.5,761.7 1254.5,776.5 1256.5,763.8 1258.5,774.3 1260.5,763.8 1262.5,766.5 1264.5,771.5 1266.5,761.2 1268.5,769.5 1270.5,767.7 1272.5,772.2 1274.5,767.1 1276.5,766.0 1278.5,772.8 1280.5,778.9 1282.5,771.5 1284.5,778.1 1286.5,769.5 1288.5,785.1 1290.5,774.3 1292.5,773.5 1294.5,778.1 1296.5,785.1 1298.5,783.2 1300.5,782.3 1302.5,773.5 1304.5,784.2 1306.5,784.2 1308.5,781.4 1310.5,784.2 1312.5,787.1 1314.5,795.3 1316.5,774.3 1318.5,778.1 1320.5,790.4 1322.5,787.1 1324.5,784.2 1326.5,790.4 1328.5,790.4 1330.5,782.3 1332.5,790.4 1334.5,784.2 1336.5,794.0 1338.5,795.3 1340.5,786.1 1342.5,790.4 1344.5,792.8 1346.5,794.0 1348.5,792.8 1350.5,789.3 1352.5,800.9 1354.5,799.4 1356.5,802.5 1358.5,805.9 1360.5,802.5 1362.5,794.0 1364.5,802.5 1366.5,807.7 1368.5,799.4 1370.5,802.5 1372.5,789.3 1374.5,813.7 1376.5,802.5 1378.5,809.6 1380.5,800.9 1382.5,807.7 1384.5,811.6 1386.5,799.4 1388.5,805.9 1390.5,802.5 1392.5,800.9 1394.5,804.1 1396.5,800.9 1398.5,842.9 1400.5,811.6 1402.5,816.0 1404.5,813.7 1406.5,813.7 1408.5,813.7 1410.5,805.9 1412.5,838.2 1414.5,813.7 1416.5,802.5 1418.5,809.6 1420.5,809.6 1422.5,804.1 1424.5,834.0 1426.5,834.0 1428.5,800.9 1430.5,830.3 1432.5,816.0 1434.5,809.6 1436.5,818.4 1438.5,816.0 1440.5,838.2 1442.5,826.9 1444.5,823.9 1446.5,802.5 1448.5,826.9 1450.5,821.0 1452.5,821.0 1454.5,838.2 1456.5,813.7 1458.5,826.9 1460.5,842.9 1462.5,848.3 1464.5,805.9 1466.5,830.3 1468.5,854.7 1470.5,826.9 1472.5,826.9 1474.5,813.7 1476.5,823.9 1478.5,821.0 1480.5,809.6 1482.5,842.9 1484.5,826.9 1486.5,823.9 1488.5,816.0 1490.5,821.0 1492.5,821.0 1494.5,826.9 1496.5,848.3 1498.5,838.2 1500.5,821.0 1502.5,826.9 1504.5,842.9 1506.5,830.3 1508.5,848.3 1510.5,854.7 1512.5,848.3 1514.5,838.2 1516.5,842.9 1518.5,848.3 1520.5,826.9 1522.5,842.9 1524.5,842.9 1526.5,842.9 1528.5,823.9 1530.5,834.0 1532.5,838.2 1534.5,830.3 1536.5,848.3 1538.5,854.7 1540.5,854.7 1542.5,821.0 1544.5,862.6 1546.5,842.9 1548.5,842.9 1550.5,821.0 1552.5,842.9 1554.5,838.2 1556.5,848.3 1558.5,854.7 1560.5,842.9 1562.5,862.6 1564.5,842.9 1566.5,826.9 1568.5,834.0 1570.5,823.9 1572.5,862.6 1574.5,848.3 1576.5,848.3 1578.5,854.7 1580.5,826.9 1582.5,830.3 1584.5,848.3 1586.5,834.0 1588.5,830.3 1590.5,842.9 1592.5,830.3 1594.5,887.1 1596.5,854.7 1598.5,842.9 1600.5,838.2 1602.5,872.8 1604.5,842.9 1606.5,823.9 1608.5,838.2 1610.5,854.7 1612.5,830.3 1614.5,848.3 1616.5,848.3 1618.5,842.9 1620.5,834.0 1622.5,848.3 1624.5,872.8 1626.5,838.2 1628.5,848.3 1630.5,872.8 1632.5,854.7 1634.5,854.7 1636.5,842.9 1638.5,862.6 1640.5,862.6 1642.5,854.7 1644.5,848.3 1646.5,838.2 1648.5,872.8 1650.5,854.7 1652.5,862.6 1654.5,854.7 1656.5,872.8 1658.5,830.3 1660.5,854.7 1662.5,842.9 1664.5,826.9 1666.5,848.3 1668.5,854.7 1670.5,872.8 1672.5,838.2 1674.5,854.7 1676.5,848.3 1678.5,842.9 1680.5,838.2 1682.5,862.6 1684.5,887.1 1686.5,887.1 1688.5,862.6 1690.5,854.7 1692.5,887.1 1694.5,854.7 1696.5,854.7 1698.5,834.0 1700.5,887.1 1702.5,862.6 1704.5,854.7 1706.5,848.3 1708.5,848.3 1710.5,872.8 1712.5,911.5 1714.5,862.6 1716.5,854.7 1718.5,887.1 1720.5,872.8 1722.5,848.3 1724.5,911.5 1726.5,854.7 1728.5,854.7 1730.5,911.5 1732.5,842.9 1734.5,872.8 1736.5,911.5 1738.5,872.8 1740.5,862.6 1742.5,887.1 1744.5,848.3 1746.5,872.8 1748.5,862.6 1750.5,838.2 1752.5,887.1 1754.5,872.8 1756.5,887.1 1758.5,826.9 1760.5,872.8 1762.5,862.6 1764.5,848.3 1766.5,872.8 1768.5,872.8 1770.5,862.6 1772.5,842.9 1774.5,887.1 1776.5,862.6 1778.5,854.7 1780.5,842.9 1782.5,887.1 1784.5,887.1 1786.5,862.6 1788.5,911.5 1790.5,887.1 1792.5,872.8 1794.5,887.1 1796.5,848.3 1798.5,842.9 1800.5,887.1 1802.5,887.1 1804.5,862.6 1806.5,887.1 1808.5,887.1 1810.5,848.3 1812.5,911.5 1814.5,872.8 1816.5,862.6 1818.5,872.8 1820.5,887.1 1822.5,838.2 1824.5,842.9 1826.5,862.6 1828.5,862.6 1830.5,911.5 1832.5,887.1 1834.5,842.9" fill="none" stroke="#F5E12A" stroke-width="4.6" stroke-linejoin="round" />
</g>
<line x1="1595.8" y1="554.8" x2="1659.1" y2="554.8" stroke="#4333D6" stroke-width="3.9"/>
<line x1="1595.8" y1="603.8" x2="1659.1" y2="603.8" stroke="#F5E12A" stroke-width="3.9"/>
</svg></body></html>
